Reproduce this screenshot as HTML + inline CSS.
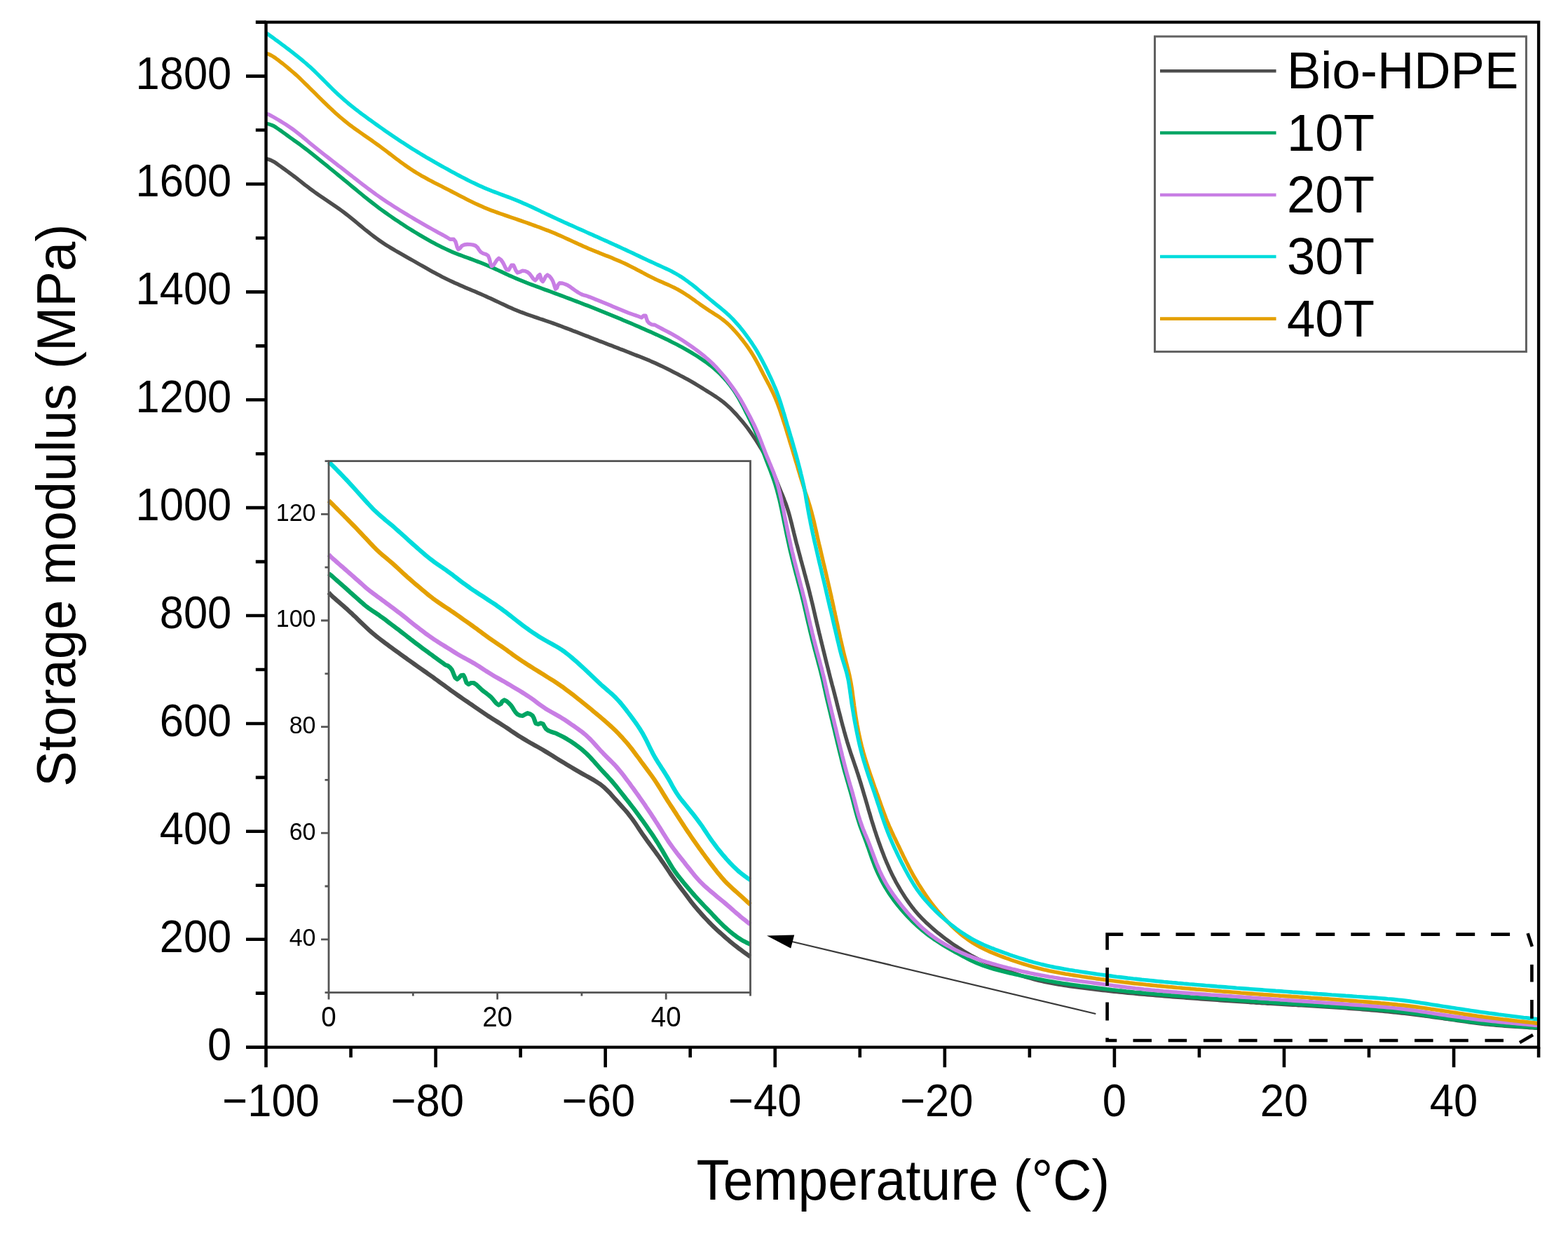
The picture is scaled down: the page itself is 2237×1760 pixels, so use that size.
<!DOCTYPE html>
<html><head><meta charset="utf-8"><title>Storage modulus</title><style>html,body{margin:0;padding:0;background:#fff;}body{width:2237px;height:1760px;overflow:hidden;}svg{display:block;}</style></head><body>
<svg xmlns="http://www.w3.org/2000/svg" width="2237" height="1760" viewBox="0 0 2237 1760">
<rect width="100%" height="100%" fill="#fff"/>
<g fill="none" stroke-linejoin="round" stroke-linecap="butt" stroke-width="6.20">
<path stroke="#4d4d4d" d="M469.0,845.0L471.5,848.1L474.4,850.8L477.4,853.4L480.4,856.1L483.4,858.7L486.5,861.3L489.5,863.9L492.5,866.6L495.5,869.2L498.4,871.9L501.4,874.6L504.3,877.4L507.2,880.1L510.1,882.9L512.9,885.7L515.8,888.5L518.7,891.3L521.6,894.0L524.5,896.7L527.4,899.4L530.5,902.1L533.5,904.6L536.6,907.2L539.7,909.6L542.9,912.1L546.1,914.5L549.3,916.9L552.5,919.3L555.7,921.7L558.9,924.0L562.2,926.4L565.4,928.8L568.6,931.1L571.9,933.5L575.1,935.8L578.4,938.1L581.6,940.5L584.9,942.8L588.1,945.1L591.4,947.4L594.7,949.7L597.9,952.0L601.2,954.3L604.5,956.6L607.8,958.9L611.0,961.2L614.3,963.5L617.6,965.8L620.8,968.2L624.1,970.5L627.3,972.9L630.5,975.2L633.7,977.6L637.0,980.0L640.2,982.3L643.4,984.7L646.7,987.0L649.9,989.3L653.2,991.6L656.5,993.9L659.8,996.2L663.1,998.5L666.4,1000.7L669.7,1003.0L673.0,1005.2L676.3,1007.5L679.6,1009.8L682.9,1012.0L686.2,1014.3L689.5,1016.5L692.8,1018.8L696.1,1021.0L699.5,1023.1L702.9,1025.3L706.2,1027.4L709.6,1029.5L713.0,1031.7L716.4,1033.8L719.8,1036.0L723.1,1038.2L726.4,1040.4L729.7,1042.7L733.0,1044.9L736.4,1047.1L739.7,1049.3L743.1,1051.4L746.5,1053.5L749.9,1055.5L753.4,1057.6L756.9,1059.6L760.3,1061.5L763.8,1063.5L767.3,1065.4L770.8,1067.4L774.3,1069.4L777.7,1071.5L781.1,1073.5L784.5,1075.6L787.9,1077.7L791.3,1079.8L794.7,1082.0L798.1,1084.1L801.5,1086.2L804.9,1088.2L808.4,1090.3L811.8,1092.4L815.2,1094.4L818.7,1096.5L822.1,1098.5L825.6,1100.5L829.0,1102.5L832.5,1104.5L836.0,1106.4L839.5,1108.3L843.0,1110.3L846.5,1112.3L849.9,1114.3L853.2,1116.5L856.5,1118.7L859.6,1121.2L862.6,1123.7L865.5,1126.5L868.3,1129.3L871.1,1132.2L873.7,1135.2L876.4,1138.2L879.0,1141.1L881.7,1144.1L884.4,1147.1L887.1,1150.1L889.7,1153.0L892.4,1156.0L895.0,1159.1L897.5,1162.2L899.9,1165.3L902.3,1168.5L904.6,1171.8L906.9,1175.1L909.1,1178.4L911.3,1181.7L913.5,1185.1L915.8,1188.4L918.1,1191.7L920.4,1194.9L922.7,1198.2L925.0,1201.4L927.4,1204.6L929.8,1207.9L932.2,1211.1L934.5,1214.3L936.9,1217.6L939.2,1220.8L941.5,1224.1L943.8,1227.4L946.1,1230.6L948.3,1233.9L950.6,1237.3L952.8,1240.6L955.0,1243.9L957.2,1247.2L959.5,1250.5L961.8,1253.8L964.1,1257.0L966.5,1260.2L968.9,1263.4L971.3,1266.6L973.8,1269.8L976.2,1273.0L978.6,1276.2L981.0,1279.4L983.4,1282.6L985.8,1285.8L988.2,1288.9L990.7,1292.0L993.3,1295.1L995.9,1298.1L998.6,1301.1L1001.2,1304.1L1003.9,1307.1L1006.6,1310.0L1009.4,1312.9L1012.1,1315.8L1014.9,1318.6L1017.8,1321.4L1020.7,1324.2L1023.6,1326.9L1026.6,1329.6L1029.6,1332.3L1032.5,1334.9L1035.5,1337.6L1038.6,1340.2L1041.6,1342.8L1044.7,1345.3L1047.8,1347.8L1051.0,1350.3L1054.1,1352.7L1057.3,1355.1L1060.5,1357.4L1063.7,1359.7L1066.9,1362.0L1069.9,1364.1L1070.5,1364.5"/>
<path stroke="#00a563" d="M469.0,818.0L472.2,820.4L475.2,823.0L478.2,825.7L481.2,828.3L484.2,831.0L487.2,833.6L490.2,836.3L493.2,838.9L496.2,841.6L499.1,844.3L502.1,846.9L505.1,849.6L508.1,852.3L511.1,854.9L514.1,857.6L517.1,860.2L520.1,862.8L523.2,865.3L526.4,867.7L529.7,870.0L532.9,872.2L536.3,874.4L539.6,876.6L542.8,878.9L546.1,881.2L549.3,883.6L552.4,886.0L555.6,888.4L558.8,890.9L562.0,893.3L565.2,895.7L568.4,898.1L571.5,900.5L574.7,902.9L577.9,905.4L581.0,907.9L584.2,910.3L587.3,912.8L590.5,915.2L593.7,917.7L596.9,920.1L600.1,922.5L603.3,924.9L606.5,927.2L609.7,929.6L612.9,932.0L616.2,934.3L619.4,936.7L622.6,939.0L625.9,941.4L629.1,943.7L632.3,946.0L635.4,948.4L639.4,949.8L642.4,952.4L644.8,955.5L646.4,959.2L647.8,963.0L649.4,966.6L652.2,968.8L655.2,966.3L657.9,963.3L661.2,962.8L663.0,966.3L664.2,970.1L665.6,973.8L668.5,976.0L672.0,974.0L675.7,974.0L679.1,976.1L682.0,978.8L684.9,981.6L687.8,984.3L691.0,986.8L694.2,989.1L697.4,991.6L700.4,994.2L703.1,997.1L705.6,1000.2L708.2,1003.3L711.4,1005.6L714.5,1003.9L716.5,1000.4L719.6,998.5L723.1,1000.3L726.1,1003.0L728.9,1005.9L731.2,1009.1L733.3,1012.6L735.5,1015.9L738.3,1018.7L741.9,1020.5L745.8,1020.8L749.2,1018.8L752.8,1017.2L756.6,1018.4L759.8,1020.8L761.7,1024.2L762.9,1028.0L764.4,1031.8L767.7,1032.9L771.4,1031.3L774.8,1032.7L776.7,1036.1L778.9,1039.5L782.1,1041.9L785.7,1043.5L789.5,1044.7L793.3,1045.9L796.9,1047.8L800.5,1049.5L804.0,1051.3L807.5,1053.3L810.9,1055.3L814.3,1057.4L817.6,1059.6L820.9,1061.9L824.1,1064.3L827.3,1066.7L830.4,1069.2L833.4,1071.8L836.4,1074.5L839.2,1077.3L842.0,1080.1L844.7,1083.1L847.4,1086.0L850.0,1089.0L852.7,1092.0L855.3,1095.0L858.0,1098.0L860.7,1100.9L863.5,1103.8L866.2,1106.7L868.9,1109.7L871.6,1112.6L874.2,1115.6L876.8,1118.7L879.3,1121.8L881.8,1124.9L884.3,1128.1L886.7,1131.2L889.2,1134.3L891.7,1137.5L894.2,1140.6L896.7,1143.7L899.1,1146.9L901.6,1150.1L904.0,1153.2L906.4,1156.4L908.8,1159.6L911.2,1162.9L913.5,1166.1L915.9,1169.3L918.2,1172.6L920.5,1175.8L922.8,1179.1L925.1,1182.4L927.4,1185.7L929.7,1189.0L931.9,1192.3L934.1,1195.6L936.2,1199.0L938.4,1202.4L940.5,1205.8L942.5,1209.2L944.6,1212.7L946.6,1216.1L948.6,1219.6L950.6,1223.0L952.6,1226.5L954.6,1229.9L956.7,1233.4L958.8,1236.8L960.9,1240.1L963.2,1243.4L965.6,1246.6L968.0,1249.8L970.5,1252.9L973.0,1256.0L975.5,1259.1L978.1,1262.2L980.7,1265.3L983.2,1268.3L985.8,1271.3L988.5,1274.4L991.1,1277.4L993.8,1280.3L996.5,1283.3L999.2,1286.2L1002.0,1289.1L1004.7,1292.0L1007.5,1294.9L1010.3,1297.7L1013.1,1300.6L1015.8,1303.5L1018.5,1306.5L1021.3,1309.4L1024.0,1312.3L1026.8,1315.1L1029.6,1317.9L1032.5,1320.7L1035.5,1323.4L1038.5,1326.0L1041.5,1328.6L1044.6,1331.1L1047.8,1333.6L1051.0,1335.9L1054.3,1338.2L1057.6,1340.3L1061.0,1342.3L1064.5,1344.1L1068.0,1345.8L1070.5,1347.1"/>
<path stroke="#c87ee4" d="M469.0,791.0L471.8,793.9L474.7,796.6L477.7,799.2L480.7,801.9L483.7,804.5L486.7,807.1L489.8,809.7L492.8,812.4L495.8,815.0L498.8,817.6L501.8,820.3L504.8,822.9L507.8,825.6L510.8,828.2L513.8,830.9L516.8,833.5L519.8,836.2L522.8,838.8L525.9,841.3L529.0,843.8L532.2,846.2L535.4,848.6L538.6,851.0L541.9,853.3L545.1,855.7L548.3,858.0L551.5,860.4L554.7,862.8L557.9,865.2L561.1,867.6L564.3,870.0L567.5,872.4L570.7,874.8L573.9,877.3L577.0,879.7L580.1,882.2L583.3,884.8L586.4,887.3L589.5,889.8L592.6,892.3L595.8,894.7L598.9,897.2L602.1,899.6L605.3,902.0L608.5,904.4L611.8,906.7L615.0,909.0L618.3,911.3L621.7,913.5L625.0,915.7L628.4,917.8L631.8,919.9L635.2,922.0L638.6,924.1L642.0,926.2L645.4,928.4L648.8,930.5L652.2,932.6L655.6,934.6L659.1,936.6L662.6,938.5L666.1,940.4L669.6,942.3L673.1,944.2L676.6,946.2L680.0,948.3L683.4,950.4L686.7,952.6L690.1,954.8L693.4,957.0L696.8,959.1L700.1,961.2L703.6,963.3L707.0,965.3L710.5,967.3L714.0,969.3L717.5,971.2L720.9,973.2L724.4,975.2L727.8,977.2L731.3,979.3L734.7,981.3L738.2,983.4L741.6,985.4L745.0,987.5L748.4,989.6L751.8,991.8L755.1,994.0L758.4,996.3L761.6,998.6L764.8,1001.0L768.0,1003.4L771.2,1005.7L774.5,1008.0L777.8,1010.3L781.1,1012.4L784.6,1014.4L788.1,1016.4L791.5,1018.3L795.0,1020.2L798.5,1022.2L801.9,1024.3L805.3,1026.4L808.6,1028.6L811.9,1030.9L815.2,1033.2L818.5,1035.4L821.8,1037.7L825.0,1040.0L828.3,1042.4L831.4,1044.8L834.5,1047.3L837.5,1050.0L840.4,1052.7L843.2,1055.5L845.9,1058.4L848.6,1061.4L851.3,1064.4L853.9,1067.3L856.6,1070.3L859.4,1073.2L862.1,1076.1L865.0,1078.9L867.8,1081.7L870.6,1084.5L873.5,1087.4L876.3,1090.2L879.0,1093.1L881.6,1096.1L884.2,1099.2L886.7,1102.3L889.2,1105.4L891.6,1108.6L894.0,1111.8L896.4,1115.0L898.8,1118.2L901.1,1121.5L903.5,1124.7L905.8,1127.9L908.2,1131.2L910.5,1134.4L912.8,1137.7L915.1,1141.0L917.4,1144.3L919.7,1147.5L921.9,1150.9L924.2,1154.2L926.4,1157.5L928.6,1160.8L930.8,1164.2L933.0,1167.5L935.1,1170.9L937.3,1174.2L939.4,1177.6L941.6,1181.0L943.7,1184.4L945.8,1187.8L947.9,1191.2L950.1,1194.6L952.2,1197.9L954.4,1201.3L956.7,1204.6L959.0,1207.8L961.4,1211.0L963.8,1214.2L966.2,1217.4L968.7,1220.5L971.2,1223.7L973.7,1226.8L976.2,1229.9L978.6,1233.1L981.1,1236.2L983.6,1239.3L986.1,1242.5L988.6,1245.6L991.1,1248.7L993.7,1251.7L996.4,1254.7L999.1,1257.6L1001.9,1260.4L1004.8,1263.2L1007.8,1265.9L1010.8,1268.5L1013.8,1271.1L1016.9,1273.7L1019.9,1276.2L1023.0,1278.8L1026.1,1281.3L1029.2,1283.8L1032.3,1286.4L1035.4,1289.0L1038.4,1291.6L1041.4,1294.2L1044.4,1296.9L1047.4,1299.5L1050.4,1302.1L1053.5,1304.7L1056.5,1307.3L1059.6,1309.8L1062.8,1312.3L1065.9,1314.8L1069.0,1317.2L1070.5,1318.4"/>
<path stroke="#e4a000" d="M469.0,714.0L471.8,716.8L474.7,719.6L477.5,722.4L480.4,725.3L483.2,728.1L486.0,730.9L488.9,733.7L491.7,736.6L494.5,739.4L497.3,742.2L500.1,745.1L502.9,748.0L505.7,750.8L508.5,753.7L511.2,756.6L514.0,759.5L516.7,762.4L519.5,765.3L522.2,768.2L525.0,771.2L527.7,774.1L530.5,777.0L533.2,779.8L536.0,782.7L538.9,785.4L541.9,788.2L544.8,790.8L547.9,793.4L551.0,795.9L554.0,798.5L557.1,801.1L560.1,803.7L563.1,806.4L566.0,809.1L569.0,811.8L571.9,814.5L574.8,817.2L577.8,819.9L580.7,822.6L583.7,825.2L586.8,827.9L589.8,830.5L592.8,833.1L595.9,835.7L598.9,838.2L602.0,840.8L605.1,843.4L608.1,845.9L611.2,848.5L614.4,850.9L617.5,853.4L620.7,855.8L624.0,858.1L627.3,860.3L630.6,862.6L633.9,864.8L637.3,867.0L640.6,869.2L643.9,871.5L647.2,873.7L650.5,876.0L653.8,878.3L657.1,880.6L660.3,882.9L663.6,885.2L666.9,887.5L670.1,889.8L673.4,892.1L676.6,894.4L679.9,896.8L683.1,899.2L686.3,901.6L689.5,904.0L692.7,906.3L696.0,908.7L699.2,911.0L702.5,913.3L705.8,915.5L709.1,917.8L712.4,920.0L715.7,922.2L719.0,924.5L722.3,926.8L725.5,929.2L728.8,931.5L732.0,933.9L735.2,936.2L738.5,938.5L741.8,940.8L745.1,943.0L748.5,945.2L751.8,947.4L755.2,949.5L758.6,951.7L762.0,953.8L765.4,955.9L768.8,958.0L772.2,960.1L775.5,962.2L778.9,964.3L782.3,966.5L785.7,968.6L789.1,970.7L792.5,972.9L795.8,975.1L799.1,977.3L802.4,979.6L805.6,982.0L808.8,984.4L812.0,986.8L815.2,989.2L818.4,991.6L821.5,994.1L824.6,996.6L827.8,999.1L830.9,1001.6L834.0,1004.1L837.1,1006.6L840.2,1009.2L843.3,1011.7L846.4,1014.3L849.5,1016.8L852.5,1019.4L855.6,1021.9L858.6,1024.5L861.7,1027.1L864.7,1029.8L867.7,1032.4L870.7,1035.1L873.6,1037.8L876.5,1040.5L879.4,1043.3L882.2,1046.2L884.9,1049.1L887.7,1052.0L890.3,1055.0L893.0,1058.0L895.6,1061.0L898.1,1064.1L900.6,1067.2L903.0,1070.4L905.4,1073.6L907.8,1076.8L910.2,1080.0L912.6,1083.2L914.9,1086.5L917.3,1089.7L919.7,1092.9L922.1,1096.1L924.5,1099.3L926.8,1102.5L929.2,1105.8L931.5,1109.0L933.8,1112.3L936.0,1115.6L938.2,1119.0L940.3,1122.4L942.4,1125.7L944.5,1129.2L946.6,1132.6L948.7,1136.0L950.8,1139.4L952.9,1142.8L955.1,1146.1L957.3,1149.5L959.5,1152.8L961.7,1156.2L963.9,1159.5L966.0,1162.9L968.2,1166.2L970.4,1169.6L972.5,1172.9L974.7,1176.3L976.9,1179.6L979.1,1183.0L981.3,1186.3L983.6,1189.6L985.8,1192.9L988.1,1196.2L990.4,1199.5L992.7,1202.8L995.0,1206.0L997.3,1209.3L999.7,1212.5L1002.0,1215.8L1004.4,1219.0L1006.7,1222.2L1009.1,1225.4L1011.5,1228.6L1013.9,1231.8L1016.4,1235.0L1018.8,1238.2L1021.3,1241.3L1023.7,1244.5L1026.3,1247.6L1028.8,1250.6L1031.5,1253.6L1034.1,1256.6L1036.9,1259.5L1039.8,1262.3L1042.7,1265.0L1045.6,1267.7L1048.6,1270.4L1051.6,1273.0L1054.6,1275.7L1057.5,1278.3L1060.5,1281.0L1063.5,1283.7L1066.4,1286.4L1069.3,1289.0L1070.5,1290.2"/>
<path stroke="#00dcdc" d="M469.0,659.0L472.0,661.6L474.8,664.4L477.7,667.3L480.5,670.1L483.3,673.0L486.1,675.8L488.8,678.7L491.6,681.6L494.4,684.5L497.1,687.4L499.8,690.3L502.6,693.3L505.2,696.2L507.9,699.2L510.6,702.2L513.3,705.2L515.9,708.1L518.6,711.1L521.3,714.1L524.0,717.1L526.7,720.0L529.4,722.9L532.2,725.8L535.0,728.6L537.9,731.3L540.9,734.0L543.9,736.6L547.0,739.2L550.0,741.8L553.1,744.3L556.2,746.9L559.3,749.4L562.3,752.0L565.3,754.7L568.3,757.3L571.3,760.0L574.3,762.7L577.2,765.3L580.2,768.0L583.1,770.7L586.1,773.4L589.1,776.1L592.1,778.7L595.1,781.4L598.1,784.0L601.1,786.6L604.1,789.2L607.2,791.8L610.3,794.3L613.4,796.8L616.6,799.3L619.8,801.7L623.0,804.0L626.3,806.3L629.6,808.5L632.9,810.8L636.2,813.0L639.5,815.4L642.7,817.7L645.9,820.1L649.0,822.6L652.2,825.0L655.4,827.5L658.6,829.9L661.8,832.3L665.0,834.6L668.3,836.9L671.5,839.2L674.8,841.5L678.2,843.7L681.5,845.9L684.9,848.1L688.2,850.2L691.6,852.4L694.9,854.6L698.3,856.8L701.6,859.0L705.0,861.2L708.3,863.4L711.5,865.7L714.8,868.0L718.0,870.4L721.2,872.8L724.4,875.2L727.6,877.7L730.7,880.1L733.8,882.6L737.0,885.1L740.1,887.5L743.3,890.0L746.5,892.4L749.7,894.8L753.0,897.1L756.2,899.4L759.5,901.7L762.8,903.9L766.2,906.1L769.6,908.3L773.0,910.4L776.4,912.4L779.9,914.4L783.3,916.3L786.9,918.2L790.4,920.2L793.8,922.1L797.2,924.2L800.6,926.3L803.9,928.6L807.1,931.0L810.2,933.4L813.3,935.9L816.4,938.5L819.4,941.1L822.4,943.7L825.4,946.4L828.4,949.1L831.3,951.8L834.3,954.5L837.2,957.2L840.1,960.0L843.0,962.7L845.9,965.5L848.8,968.3L851.7,971.0L854.6,973.8L857.5,976.5L860.5,979.1L863.5,981.7L866.6,984.4L869.6,987.0L872.6,989.6L875.5,992.3L878.4,995.1L881.1,998.0L883.8,1000.9L886.4,1003.9L888.9,1007.0L891.4,1010.2L893.9,1013.3L896.3,1016.5L898.7,1019.7L901.1,1022.9L903.5,1026.1L905.8,1029.3L908.2,1032.6L910.4,1035.9L912.6,1039.2L914.7,1042.6L916.8,1046.0L918.7,1049.5L920.6,1053.0L922.5,1056.6L924.2,1060.2L926.0,1063.8L927.7,1067.3L929.5,1070.9L931.3,1074.5L933.2,1078.0L935.2,1081.5L937.3,1084.9L939.4,1088.3L941.6,1091.6L943.7,1095.0L945.9,1098.3L948.1,1101.7L950.2,1105.1L952.3,1108.5L954.3,1111.9L956.3,1115.4L958.2,1118.9L960.1,1122.4L962.1,1125.9L964.1,1129.3L966.3,1132.6L968.6,1135.9L970.9,1139.1L973.4,1142.2L975.9,1145.3L978.4,1148.4L981.0,1151.5L983.5,1154.6L986.0,1157.7L988.5,1160.8L991.0,1164.0L993.4,1167.1L995.8,1170.3L998.2,1173.6L1000.5,1176.8L1002.8,1180.1L1005.0,1183.5L1007.2,1186.8L1009.4,1190.1L1011.7,1193.4L1013.9,1196.7L1016.2,1200.0L1018.6,1203.2L1021.0,1206.4L1023.4,1209.6L1025.9,1212.7L1028.4,1215.8L1031.0,1218.9L1033.6,1221.9L1036.2,1225.0L1038.9,1227.9L1041.6,1230.9L1044.3,1233.7L1047.2,1236.6L1050.1,1239.3L1053.0,1242.0L1056.1,1244.6L1059.2,1247.1L1062.4,1249.5L1065.6,1251.8L1068.9,1254.0L1070.5,1255.1"/>
</g>
<g stroke="#555" stroke-width="2.80" fill="none">
<rect x="469.00" y="657.60" width="601.50" height="758.00"/>
<path d="M458.00,1339.80H469.00M458.00,1188.20H469.00M458.00,1036.60H469.00M458.00,885.00H469.00M458.00,733.40H469.00M463.50,1415.60H469.00M463.50,1264.00H469.00M463.50,1112.40H469.00M463.50,960.80H469.00M463.50,809.20H469.00M463.50,657.60H469.00M469.00,1415.60V1425.60M709.60,1415.60V1425.60M950.20,1415.60V1425.60M589.30,1415.60V1420.60M829.90,1415.60V1420.60M1070.50,1415.60V1420.60"/>
</g>
<text font-family="'Liberation Sans', Arial, sans-serif" fill="#000" font-size="34.00" transform="translate(450.50,1349.20) scale(1.0000,1.0500)" text-anchor="end">40</text>
<text font-family="'Liberation Sans', Arial, sans-serif" fill="#000" font-size="34.00" transform="translate(450.50,1197.60) scale(1.0000,1.0500)" text-anchor="end">60</text>
<text font-family="'Liberation Sans', Arial, sans-serif" fill="#000" font-size="34.00" transform="translate(450.50,1046.00) scale(1.0000,1.0500)" text-anchor="end">80</text>
<text font-family="'Liberation Sans', Arial, sans-serif" fill="#000" font-size="34.00" transform="translate(450.50,894.40) scale(1.0000,1.0500)" text-anchor="end">100</text>
<text font-family="'Liberation Sans', Arial, sans-serif" fill="#000" font-size="34.00" transform="translate(450.50,742.80) scale(1.0000,1.0500)" text-anchor="end">120</text>
<text font-family="'Liberation Sans', Arial, sans-serif" fill="#000" font-size="38.50" transform="translate(469.00,1463.50) scale(1.0000,1.0500)" text-anchor="middle">0</text>
<text font-family="'Liberation Sans', Arial, sans-serif" fill="#000" font-size="38.50" transform="translate(709.60,1463.50) scale(1.0000,1.0500)" text-anchor="middle">20</text>
<text font-family="'Liberation Sans', Arial, sans-serif" fill="#000" font-size="38.50" transform="translate(950.20,1463.50) scale(1.0000,1.0500)" text-anchor="middle">40</text>
<g fill="none" stroke-linejoin="round" stroke-linecap="butt" stroke-width="5.40">
<path stroke="#4d4d4d" d="M379.5,226.5L383.4,227.4L387.1,228.8L390.6,230.6L393.9,232.8L397.1,235.1L400.4,237.4L403.6,239.7L406.8,242.0L410.0,244.4L413.2,246.7L416.4,249.1L419.6,251.5L422.8,253.9L425.9,256.4L429.1,258.8L432.2,261.3L435.3,263.8L438.5,266.2L441.7,268.7L444.9,271.0L448.1,273.4L451.4,275.7L454.6,278.0L457.9,280.2L461.3,282.5L464.6,284.7L467.9,286.9L471.2,289.2L474.5,291.4L477.8,293.7L481.1,296.0L484.3,298.3L487.6,300.6L490.8,303.0L494.0,305.5L497.1,307.9L500.2,310.4L503.3,312.9L506.4,315.4L509.5,318.0L512.6,320.6L515.7,323.1L518.8,325.7L521.8,328.2L525.0,330.7L528.1,333.2L531.3,335.6L534.4,338.0L537.7,340.4L540.9,342.7L544.2,345.0L547.5,347.2L550.9,349.4L554.3,351.5L557.7,353.6L561.1,355.6L564.6,357.7L568.0,359.7L571.5,361.7L575.0,363.6L578.4,365.6L581.9,367.6L585.4,369.6L588.9,371.5L592.4,373.5L595.8,375.5L599.3,377.5L602.8,379.4L606.3,381.4L609.8,383.4L613.2,385.3L616.7,387.3L620.2,389.2L623.8,391.1L627.3,392.9L630.8,394.8L634.4,396.6L638.0,398.4L641.6,400.1L645.2,401.8L648.8,403.5L652.5,405.1L656.1,406.7L659.8,408.3L663.5,409.9L667.2,411.5L670.9,413.0L674.5,414.6L678.2,416.1L681.9,417.7L685.6,419.3L689.2,420.9L692.9,422.5L696.5,424.2L700.2,425.8L703.8,427.5L707.4,429.2L711.0,430.9L714.6,432.6L718.3,434.3L721.9,436.0L725.5,437.7L729.2,439.3L732.9,440.9L736.6,442.4L740.3,443.9L744.0,445.4L747.7,446.8L751.5,448.2L755.2,449.5L759.0,450.8L762.8,452.1L766.6,453.4L770.4,454.7L774.2,455.9L778.0,457.2L781.7,458.5L785.5,459.8L789.3,461.1L793.1,462.5L796.8,463.9L800.6,465.2L804.3,466.7L808.0,468.1L811.8,469.5L815.5,470.9L819.2,472.4L823.0,473.8L826.7,475.3L830.4,476.7L834.2,478.2L837.9,479.6L841.6,481.1L845.3,482.5L849.1,484.0L852.8,485.4L856.5,486.9L860.3,488.3L864.0,489.7L867.7,491.2L871.5,492.6L875.2,494.1L878.9,495.5L882.7,496.9L886.4,498.4L890.1,499.8L893.8,501.3L897.6,502.7L901.3,504.2L905.0,505.7L908.7,507.1L912.5,508.6L916.2,510.1L919.9,511.6L923.6,513.1L927.3,514.6L930.9,516.2L934.6,517.8L938.2,519.5L941.9,521.2L945.5,522.9L949.1,524.6L952.6,526.4L956.2,528.2L959.8,530.1L963.3,531.9L966.9,533.7L970.4,535.6L974.0,537.4L977.5,539.3L981.0,541.2L984.5,543.1L988.0,545.1L991.4,547.1L994.8,549.2L998.2,551.3L1001.6,553.4L1005.0,555.5L1008.4,557.6L1011.8,559.7L1015.1,561.8L1018.5,564.0L1021.8,566.1L1025.1,568.4L1028.3,570.7L1031.5,573.1L1034.5,575.6L1037.5,578.2L1040.5,580.9L1043.3,583.7L1046.1,586.6L1048.9,589.5L1051.6,592.4L1054.2,595.4L1056.8,598.4L1059.4,601.5L1061.9,604.6L1064.3,607.7L1066.8,610.9L1069.1,614.1L1071.4,617.4L1073.7,620.7L1075.9,624.0L1078.1,627.3L1080.3,630.7L1082.4,634.1L1084.5,637.5L1086.6,640.9L1088.6,644.3L1090.6,647.8L1092.5,651.3L1094.4,654.8L1096.2,658.4L1097.9,662.0L1099.5,665.6L1101.1,669.3L1102.7,673.0L1104.2,676.7L1105.7,680.4L1107.2,684.1L1108.7,687.8L1110.2,691.5L1111.7,695.2L1113.2,698.9L1114.7,702.6L1116.3,706.3L1117.8,710.0L1119.2,713.7L1120.7,717.4L1122.0,721.2L1123.3,725.0L1124.5,728.8L1125.6,732.6L1126.7,736.4L1127.7,740.3L1128.7,744.2L1129.7,748.0L1130.6,751.9L1131.6,755.8L1132.5,759.7L1133.5,763.6L1134.5,767.5L1135.4,771.3L1136.4,775.2L1137.5,779.1L1138.5,782.9L1139.5,786.8L1140.6,790.7L1141.6,794.5L1142.6,798.4L1143.7,802.3L1144.7,806.1L1145.8,810.0L1146.8,813.8L1147.8,817.7L1148.9,821.6L1149.9,825.4L1150.9,829.3L1152.0,833.2L1153.0,837.0L1154.0,840.9L1155.0,844.8L1155.9,848.7L1156.9,852.5L1157.8,856.4L1158.8,860.3L1159.7,864.2L1160.6,868.1L1161.5,872.0L1162.4,875.9L1163.3,879.8L1164.2,883.7L1165.1,887.6L1166.0,891.5L1167.0,895.4L1167.9,899.3L1168.8,903.2L1169.8,907.0L1170.7,910.9L1171.7,914.8L1172.6,918.7L1173.6,922.6L1174.5,926.5L1175.5,930.4L1176.4,934.2L1177.4,938.1L1178.3,942.0L1179.3,945.9L1180.3,949.8L1181.3,953.6L1182.2,957.5L1183.2,961.4L1184.2,965.3L1185.2,969.1L1186.2,973.0L1187.2,976.9L1188.3,980.8L1189.3,984.6L1190.3,988.5L1191.3,992.4L1192.3,996.2L1193.3,1000.1L1194.2,1004.0L1195.2,1007.9L1196.2,1011.8L1197.2,1015.6L1198.2,1019.5L1199.2,1023.4L1200.2,1027.3L1201.2,1031.1L1202.2,1035.0L1203.3,1038.8L1204.3,1042.7L1205.4,1046.6L1206.5,1050.4L1207.6,1054.2L1208.7,1058.1L1209.9,1061.9L1211.1,1065.7L1212.3,1069.5L1213.5,1073.3L1214.8,1077.1L1216.1,1080.9L1217.4,1084.7L1218.7,1088.5L1220.0,1092.3L1221.3,1096.0L1222.5,1099.8L1223.8,1103.6L1225.0,1107.4L1226.2,1111.3L1227.4,1115.1L1228.6,1118.9L1229.7,1122.7L1230.9,1126.6L1232.0,1130.4L1233.1,1134.2L1234.3,1138.1L1235.4,1141.9L1236.5,1145.8L1237.6,1149.6L1238.7,1153.4L1239.8,1157.3L1241.0,1161.1L1242.1,1165.0L1243.2,1168.8L1244.4,1172.6L1245.6,1176.4L1246.8,1180.2L1248.0,1184.1L1249.3,1187.9L1250.5,1191.6L1251.8,1195.4L1253.1,1199.2L1254.5,1203.0L1255.8,1206.7L1257.2,1210.5L1258.6,1214.2L1260.1,1218.0L1261.5,1221.7L1263.0,1225.4L1264.5,1229.1L1266.1,1232.8L1267.7,1236.4L1269.3,1240.1L1271.0,1243.7L1272.7,1247.3L1274.5,1250.9L1276.4,1254.4L1278.2,1258.0L1280.2,1261.5L1282.2,1264.9L1284.2,1268.4L1286.3,1271.8L1288.4,1275.2L1290.5,1278.5L1292.8,1281.9L1295.0,1285.1L1297.3,1288.4L1299.7,1291.6L1302.1,1294.8L1304.6,1297.9L1307.2,1300.9L1309.8,1303.9L1312.5,1306.9L1315.3,1309.8L1318.1,1312.6L1320.9,1315.4L1323.8,1318.1L1326.8,1320.8L1329.8,1323.5L1332.8,1326.1L1335.9,1328.7L1338.9,1331.2L1342.1,1333.7L1345.2,1336.2L1348.4,1338.6L1351.6,1341.0L1354.8,1343.3L1358.1,1345.6L1361.4,1347.9L1364.7,1350.1L1368.1,1352.3L1371.4,1354.4L1374.8,1356.5L1378.3,1358.6L1381.7,1360.6L1385.2,1362.6L1388.7,1364.4L1392.3,1366.3L1395.8,1368.1L1399.4,1369.8L1403.1,1371.4L1406.7,1373.0L1410.4,1374.6L1414.1,1376.1L1417.8,1377.6L1421.6,1379.0L1425.3,1380.4L1429.0,1381.8L1432.8,1383.2L1436.6,1384.6L1440.3,1385.9L1444.1,1387.2L1447.9,1388.5L1451.7,1389.7L1455.5,1391.0L1459.3,1392.2L1463.1,1393.3L1467.0,1394.4L1470.8,1395.5L1474.7,1396.6L1478.5,1397.6L1482.4,1398.5L1486.3,1399.4L1490.2,1400.3L1494.1,1401.1L1498.0,1401.9L1502.0,1402.7L1505.9,1403.4L1509.9,1404.0L1513.8,1404.7L1517.8,1405.3L1521.7,1405.9L1525.7,1406.5L1529.6,1407.0L1533.6,1407.5L1537.6,1408.1L1541.5,1408.6L1545.5,1409.1L1549.5,1409.6L1553.4,1410.1L1557.4,1410.6L1561.4,1411.0L1565.3,1411.5L1569.3,1412.0L1573.3,1412.5L1577.3,1412.9L1581.2,1413.4L1585.2,1413.8L1589.2,1414.2L1593.2,1414.6L1597.1,1415.0L1601.1,1415.4L1605.1,1415.8L1609.1,1416.2L1613.1,1416.6L1617.1,1416.9L1621.0,1417.3L1625.0,1417.7L1629.0,1418.0L1633.0,1418.4L1637.0,1418.7L1641.0,1419.1L1644.9,1419.4L1648.9,1419.7L1652.9,1420.1L1656.9,1420.4L1660.9,1420.7L1664.9,1421.1L1668.9,1421.4L1672.9,1421.7L1676.8,1422.0L1680.8,1422.3L1684.8,1422.6L1688.8,1422.9L1692.8,1423.2L1696.8,1423.5L1700.8,1423.8L1704.8,1424.1L1708.7,1424.4L1712.7,1424.7L1716.7,1425.0L1720.7,1425.3L1724.7,1425.6L1728.7,1425.9L1732.7,1426.1L1736.7,1426.4L1740.7,1426.7L1744.7,1427.0L1748.6,1427.3L1752.6,1427.5L1756.6,1427.8L1760.6,1428.1L1764.6,1428.3L1768.6,1428.6L1772.6,1428.9L1776.6,1429.1L1780.6,1429.4L1784.6,1429.7L1788.6,1429.9L1792.5,1430.2L1796.5,1430.4L1800.5,1430.7L1804.5,1430.9L1808.5,1431.2L1812.5,1431.4L1816.5,1431.6L1820.5,1431.9L1824.5,1432.1L1828.5,1432.3L1832.5,1432.5L1836.5,1432.8L1840.5,1433.0L1844.5,1433.2L1848.5,1433.4L1852.4,1433.7L1856.4,1433.9L1860.4,1434.1L1864.4,1434.3L1868.4,1434.6L1872.4,1434.8L1876.4,1435.0L1880.4,1435.3L1884.4,1435.5L1888.4,1435.7L1892.4,1436.0L1896.4,1436.2L1900.4,1436.5L1904.4,1436.8L1908.3,1437.0L1912.3,1437.3L1916.3,1437.6L1920.3,1437.9L1924.3,1438.2L1928.3,1438.5L1932.3,1438.8L1936.3,1439.1L1940.3,1439.4L1944.2,1439.7L1948.2,1440.0L1952.2,1440.4L1956.2,1440.7L1960.2,1441.1L1964.2,1441.4L1968.2,1441.8L1972.1,1442.1L1976.1,1442.5L1980.1,1442.9L1984.1,1443.3L1988.1,1443.7L1992.0,1444.1L1996.0,1444.5L2000.0,1445.0L2004.0,1445.4L2007.9,1445.9L2011.9,1446.4L2015.9,1446.8L2019.9,1447.3L2023.8,1447.8L2027.8,1448.4L2031.8,1448.9L2035.7,1449.4L2039.7,1449.9L2043.6,1450.5L2047.6,1451.0L2051.6,1451.6L2055.5,1452.1L2059.5,1452.7L2063.5,1453.2L2067.4,1453.8L2071.4,1454.4L2075.3,1454.9L2079.3,1455.5L2083.3,1456.1L2087.2,1456.6L2091.2,1457.2L2095.1,1457.7L2099.1,1458.3L2103.1,1458.8L2107.0,1459.3L2111.0,1459.8L2115.0,1460.3L2118.9,1460.7L2122.9,1461.1L2126.9,1461.5L2130.9,1461.9L2134.9,1462.3L2138.9,1462.6L2142.8,1462.9L2146.8,1463.2L2150.8,1463.5L2154.8,1463.8L2158.8,1464.1L2162.8,1464.4L2166.8,1464.6L2170.7,1464.9L2174.7,1465.1L2178.7,1465.4L2182.7,1465.7L2186.6,1465.9L2190.5,1466.2L2194.1,1466.4L2195.0,1466.5"/>
<path stroke="#00a563" d="M379.5,176.0L383.4,177.0L387.1,178.2L390.7,179.8L394.0,181.9L397.2,184.1L400.4,186.3L403.6,188.6L406.8,190.9L410.0,193.2L413.2,195.6L416.4,197.9L419.6,200.2L422.9,202.5L426.1,204.8L429.3,207.2L432.5,209.6L435.7,212.0L438.9,214.4L442.0,216.9L445.2,219.4L448.3,221.9L451.4,224.4L454.5,226.9L457.6,229.4L460.7,231.9L463.9,234.4L467.0,236.9L470.1,239.5L473.2,242.0L476.3,244.5L479.4,247.0L482.5,249.6L485.6,252.1L488.7,254.6L491.7,257.2L494.8,259.7L497.9,262.3L501.0,264.8L504.1,267.4L507.2,269.9L510.3,272.5L513.3,275.0L516.4,277.5L519.5,280.1L522.7,282.6L525.8,285.1L528.9,287.5L532.1,290.0L535.2,292.4L538.4,294.9L541.6,297.3L544.8,299.6L548.1,302.0L551.3,304.3L554.6,306.6L557.9,308.9L561.2,311.2L564.5,313.4L567.8,315.6L571.1,317.9L574.5,320.0L577.8,322.2L581.2,324.4L584.6,326.5L588.0,328.6L591.4,330.7L594.8,332.8L598.2,334.8L601.7,336.9L605.1,338.9L608.6,340.9L612.1,342.8L615.6,344.8L619.1,346.7L622.6,348.6L626.2,350.4L629.7,352.2L633.3,353.9L637.0,355.6L640.6,357.3L644.3,358.9L647.9,360.4L651.7,361.9L655.4,363.4L659.1,364.8L662.9,366.2L666.6,367.5L670.4,368.9L674.1,370.3L677.9,371.7L681.6,373.1L685.4,374.5L689.1,376.0L692.8,377.5L696.4,379.1L700.1,380.7L703.7,382.3L707.4,384.0L711.0,385.6L714.6,387.3L718.3,389.0L721.9,390.7L725.5,392.4L729.2,394.0L732.8,395.6L736.5,397.2L740.2,398.8L743.9,400.3L747.6,401.8L751.3,403.3L755.0,404.7L758.8,406.1L762.5,407.5L766.3,408.9L770.0,410.3L773.8,411.7L777.5,413.1L781.3,414.4L785.0,415.8L788.8,417.2L792.5,418.6L796.3,420.0L800.0,421.4L803.8,422.8L807.5,424.2L811.3,425.6L815.0,427.0L818.8,428.5L822.5,429.9L826.2,431.3L830.0,432.7L833.7,434.2L837.4,435.6L841.1,437.1L844.9,438.6L848.6,440.0L852.3,441.5L856.0,443.0L859.7,444.5L863.4,446.0L867.1,447.5L870.8,449.0L874.5,450.5L878.2,452.0L881.9,453.6L885.6,455.1L889.3,456.7L893.0,458.2L896.7,459.8L900.4,461.3L904.0,462.9L907.7,464.5L911.4,466.1L915.1,467.7L918.7,469.3L922.4,470.9L926.0,472.5L929.7,474.1L933.3,475.8L937.0,477.4L940.6,479.1L944.2,480.8L947.9,482.5L951.5,484.2L955.1,486.0L958.6,487.8L962.2,489.6L965.8,491.4L969.3,493.3L972.8,495.2L976.3,497.1L979.8,499.1L983.3,501.1L986.7,503.1L990.1,505.2L993.5,507.3L996.9,509.5L1000.2,511.7L1003.5,513.9L1006.8,516.2L1010.0,518.6L1013.2,521.0L1016.3,523.5L1019.3,526.0L1022.3,528.6L1025.2,531.4L1028.1,534.1L1030.9,537.0L1033.6,539.9L1036.2,542.9L1038.7,546.0L1041.2,549.1L1043.6,552.3L1045.9,555.5L1048.2,558.8L1050.3,562.2L1052.4,565.6L1054.4,569.0L1056.3,572.5L1058.2,576.0L1060.1,579.6L1061.9,583.1L1063.7,586.7L1065.5,590.3L1067.3,593.8L1069.0,597.4L1070.8,601.0L1072.6,604.6L1074.3,608.2L1076.0,611.8L1077.6,615.5L1079.2,619.1L1080.7,622.8L1082.2,626.6L1083.6,630.3L1085.0,634.0L1086.3,637.8L1087.7,641.5L1089.1,645.3L1090.5,649.0L1091.9,652.8L1093.3,656.5L1094.8,660.3L1096.2,664.0L1097.7,667.7L1099.1,671.4L1100.5,675.2L1101.9,678.9L1103.2,682.7L1104.5,686.5L1105.8,690.3L1106.9,694.1L1108.1,697.9L1109.1,701.8L1110.1,705.6L1111.1,709.5L1112.1,713.4L1113.0,717.3L1113.8,721.2L1114.7,725.1L1115.5,729.0L1116.3,732.9L1117.1,736.8L1117.9,740.8L1118.7,744.7L1119.5,748.6L1120.3,752.5L1121.1,756.4L1121.9,760.4L1122.7,764.3L1123.6,768.2L1124.4,772.1L1125.3,776.0L1126.1,779.9L1127.0,783.8L1127.9,787.7L1128.9,791.6L1129.8,795.5L1130.8,799.4L1131.7,803.2L1132.7,807.1L1133.7,811.0L1134.7,814.9L1135.7,818.7L1136.8,822.6L1137.8,826.5L1138.8,830.3L1139.8,834.2L1140.9,838.1L1141.9,841.9L1142.9,845.8L1143.9,849.7L1144.8,853.6L1145.8,857.4L1146.7,861.3L1147.6,865.2L1148.5,869.1L1149.4,873.0L1150.3,876.9L1151.2,880.8L1152.1,884.7L1153.0,888.6L1154.0,892.5L1154.9,896.4L1155.8,900.3L1156.7,904.2L1157.7,908.1L1158.6,911.9L1159.6,915.8L1160.6,919.7L1161.6,923.6L1162.6,927.4L1163.7,931.3L1164.7,935.2L1165.8,939.0L1166.8,942.9L1167.8,946.7L1168.9,950.6L1169.9,954.5L1170.9,958.3L1171.8,962.2L1172.8,966.1L1173.7,970.0L1174.6,973.9L1175.4,977.8L1176.3,981.7L1177.2,985.6L1178.0,989.5L1178.9,993.4L1179.8,997.3L1180.7,1001.2L1181.7,1005.1L1182.6,1009.0L1183.5,1012.9L1184.5,1016.8L1185.4,1020.7L1186.3,1024.6L1187.3,1028.4L1188.2,1032.3L1189.1,1036.2L1190.1,1040.1L1191.0,1044.0L1191.9,1047.9L1192.9,1051.8L1193.8,1055.7L1194.7,1059.6L1195.7,1063.5L1196.6,1067.3L1197.5,1071.2L1198.5,1075.1L1199.5,1079.0L1200.4,1082.9L1201.4,1086.8L1202.4,1090.6L1203.4,1094.5L1204.4,1098.4L1205.5,1102.2L1206.6,1106.1L1207.7,1109.9L1208.8,1113.8L1209.9,1117.6L1211.0,1121.4L1212.1,1125.3L1213.2,1129.1L1214.3,1133.0L1215.4,1136.8L1216.4,1140.7L1217.4,1144.6L1218.4,1148.4L1219.4,1152.3L1220.4,1156.2L1221.5,1160.0L1222.6,1163.9L1223.7,1167.7L1224.9,1171.5L1226.1,1175.3L1227.4,1179.1L1228.8,1182.8L1230.2,1186.6L1231.6,1190.3L1233.1,1194.0L1234.5,1197.8L1235.9,1201.5L1237.2,1205.3L1238.6,1209.0L1239.9,1212.8L1241.2,1216.6L1242.5,1220.4L1243.8,1224.1L1245.2,1227.9L1246.6,1231.6L1248.0,1235.3L1249.5,1239.0L1251.1,1242.7L1252.8,1246.3L1254.5,1249.9L1256.3,1253.5L1258.1,1257.0L1260.0,1260.5L1262.0,1264.0L1264.1,1267.4L1266.2,1270.8L1268.4,1274.2L1270.6,1277.5L1272.9,1280.7L1275.2,1284.0L1277.6,1287.1L1280.1,1290.3L1282.6,1293.4L1285.2,1296.5L1287.8,1299.5L1290.4,1302.5L1293.1,1305.4L1295.9,1308.3L1298.7,1311.2L1301.5,1314.0L1304.4,1316.8L1307.3,1319.5L1310.2,1322.2L1313.2,1324.8L1316.3,1327.4L1319.4,1329.9L1322.5,1332.4L1325.7,1334.8L1329.0,1337.1L1332.2,1339.4L1335.5,1341.6L1338.9,1343.8L1342.3,1346.0L1345.7,1348.1L1349.1,1350.1L1352.5,1352.2L1356.0,1354.2L1359.5,1356.2L1362.9,1358.1L1366.4,1360.0L1370.0,1362.0L1373.5,1363.9L1377.0,1365.7L1380.6,1367.5L1384.1,1369.3L1387.7,1371.1L1391.4,1372.7L1395.0,1374.3L1398.7,1375.8L1402.4,1377.2L1406.2,1378.5L1410.0,1379.8L1413.8,1381.0L1417.6,1382.1L1421.5,1383.2L1425.3,1384.2L1429.2,1385.2L1433.1,1386.2L1437.0,1387.1L1440.9,1388.0L1444.8,1388.9L1448.7,1389.8L1452.6,1390.6L1456.5,1391.5L1460.4,1392.3L1464.3,1393.1L1468.2,1393.9L1472.2,1394.7L1476.1,1395.4L1480.0,1396.2L1483.9,1396.9L1487.9,1397.7L1491.8,1398.4L1495.8,1399.1L1499.7,1399.7L1503.6,1400.4L1507.6,1401.1L1511.5,1401.7L1515.5,1402.3L1519.4,1402.9L1523.4,1403.5L1527.4,1404.1L1531.3,1404.6L1535.3,1405.2L1539.2,1405.7L1543.2,1406.3L1547.2,1406.8L1551.1,1407.3L1555.1,1407.8L1559.1,1408.3L1563.0,1408.8L1567.0,1409.3L1571.0,1409.8L1574.9,1410.3L1578.9,1410.8L1582.9,1411.2L1586.9,1411.7L1590.8,1412.1L1594.8,1412.6L1598.8,1413.0L1602.8,1413.4L1606.7,1413.9L1610.7,1414.3L1614.7,1414.7L1618.7,1415.1L1622.7,1415.4L1626.7,1415.8L1630.6,1416.2L1634.6,1416.6L1638.6,1416.9L1642.6,1417.3L1646.6,1417.6L1650.6,1418.0L1654.5,1418.3L1658.5,1418.7L1662.5,1419.0L1666.5,1419.3L1670.5,1419.7L1674.5,1420.0L1678.5,1420.3L1682.4,1420.6L1686.4,1420.9L1690.4,1421.2L1694.4,1421.5L1698.4,1421.9L1702.4,1422.2L1706.4,1422.4L1710.4,1422.7L1714.4,1423.0L1718.3,1423.3L1722.3,1423.6L1726.3,1423.9L1730.3,1424.2L1734.3,1424.5L1738.3,1424.8L1742.3,1425.0L1746.3,1425.3L1750.3,1425.6L1754.3,1425.9L1758.2,1426.2L1762.2,1426.5L1766.2,1426.7L1770.2,1427.0L1774.2,1427.3L1778.2,1427.6L1782.2,1427.8L1786.2,1428.1L1790.2,1428.4L1794.2,1428.6L1798.1,1428.9L1802.1,1429.2L1806.1,1429.4L1810.1,1429.7L1814.1,1429.9L1818.1,1430.2L1822.1,1430.4L1826.1,1430.7L1830.1,1430.9L1834.1,1431.2L1838.1,1431.4L1842.1,1431.7L1846.1,1431.9L1850.0,1432.2L1854.0,1432.4L1858.0,1432.7L1862.0,1432.9L1866.0,1433.2L1870.0,1433.4L1874.0,1433.7L1878.0,1433.9L1882.0,1434.2L1886.0,1434.4L1890.0,1434.7L1894.0,1434.9L1897.9,1435.2L1901.9,1435.5L1905.9,1435.7L1909.9,1436.0L1913.9,1436.3L1917.9,1436.6L1921.9,1436.8L1925.9,1437.1L1929.9,1437.4L1933.9,1437.7L1937.9,1438.0L1941.8,1438.3L1945.8,1438.5L1949.8,1438.8L1953.8,1439.1L1957.8,1439.4L1961.8,1439.7L1965.8,1440.1L1969.8,1440.4L1973.7,1440.7L1977.7,1441.1L1981.7,1441.4L1985.7,1441.8L1989.7,1442.2L1993.6,1442.7L1997.6,1443.1L2001.6,1443.6L2005.6,1444.1L2009.5,1444.6L2013.5,1445.1L2017.5,1445.7L2021.4,1446.2L2025.4,1446.8L2029.3,1447.4L2033.3,1448.0L2037.2,1448.7L2041.2,1449.3L2045.1,1449.9L2049.1,1450.5L2053.0,1451.1L2057.0,1451.7L2061.0,1452.3L2064.9,1452.8L2068.9,1453.4L2072.8,1454.0L2076.8,1454.5L2080.8,1455.1L2084.7,1455.6L2088.7,1456.1L2092.6,1456.7L2096.6,1457.2L2100.6,1457.7L2104.6,1458.1L2108.5,1458.6L2112.5,1459.1L2116.5,1459.5L2120.5,1459.9L2124.4,1460.3L2128.4,1460.7L2132.4,1461.1L2136.4,1461.5L2140.4,1461.8L2144.3,1462.1L2148.3,1462.5L2152.3,1462.8L2156.3,1463.1L2160.3,1463.4L2164.3,1463.7L2168.3,1464.0L2172.2,1464.3L2176.2,1464.6L2180.2,1464.9L2184.2,1465.2L2188.1,1465.5L2192.0,1465.8L2195.0,1466.0"/>
<path stroke="#c87ee4" d="M379.5,162.0L383.2,163.2L386.8,165.1L390.3,167.0L393.7,169.0L397.2,171.0L400.6,173.1L404.0,175.2L407.4,177.3L410.7,179.5L414.0,181.7L417.3,184.0L420.5,186.4L423.6,188.8L426.8,191.3L429.9,193.8L432.9,196.4L436.0,198.9L439.1,201.5L442.1,204.1L445.2,206.6L448.3,209.1L451.4,211.6L454.5,214.1L457.7,216.6L460.8,219.1L464.0,221.6L467.1,224.0L470.3,226.5L473.4,228.9L476.6,231.4L479.8,233.8L482.9,236.3L486.1,238.7L489.3,241.2L492.4,243.6L495.6,246.1L498.7,248.6L501.9,251.0L505.0,253.5L508.2,255.9L511.3,258.4L514.5,260.8L517.7,263.3L520.8,265.7L524.0,268.1L527.2,270.5L530.5,272.9L533.7,275.2L536.9,277.6L540.2,279.9L543.5,282.2L546.8,284.4L550.1,286.7L553.4,288.9L556.8,291.1L560.1,293.2L563.5,295.4L566.9,297.5L570.3,299.7L573.7,301.8L577.1,303.8L580.5,305.9L583.9,308.0L587.4,310.0L590.8,312.1L594.2,314.1L597.7,316.1L601.2,318.1L604.6,320.1L608.1,322.1L611.6,324.1L615.1,326.0L618.6,328.0L622.1,329.9L625.5,331.8L629.0,333.7L632.4,335.5L635.7,337.4L638.9,339.3L642.0,341.2L647.4,341.3L649.8,344.4L651.0,348.2L652.0,352.1L653.7,355.7L656.5,353.7L659.0,350.6L662.6,349.0L666.6,348.5L670.6,348.6L674.5,349.1L678.3,350.4L681.3,353.0L683.4,356.4L685.9,359.5L689.3,361.5L693.1,362.6L696.4,364.8L698.0,368.5L699.0,372.3L699.8,376.3L701.5,379.7L704.5,377.7L706.6,374.3L708.8,370.9L711.7,368.3L714.8,370.6L717.1,373.9L719.0,377.4L720.7,381.0L722.6,384.5L725.7,385.1L727.7,381.6L729.8,378.2L732.7,378.3L734.4,382.0L735.9,385.7L738.2,388.9L741.9,387.9L745.4,386.1L749.3,386.6L752.9,388.3L755.9,390.9L758.3,394.1L760.6,397.4L763.6,399.9L766.2,397.2L767.7,393.5L770.1,391.6L771.3,395.4L772.2,399.3L774.4,401.5L776.5,398.2L778.3,394.6L781.1,392.1L784.3,394.3L786.8,397.5L788.7,400.9L790.1,404.7L791.2,408.5L792.6,412.3L794.7,410.5L795.8,406.7L798.3,403.8L802.3,404.0L806.1,405.2L809.8,406.8L813.2,408.8L816.4,411.3L819.6,413.6L822.9,415.9L826.3,418.0L829.8,419.9L833.6,421.2L837.5,422.2L841.2,423.6L844.9,425.1L848.6,426.6L852.3,428.0L856.0,429.5L859.7,431.1L863.4,432.6L867.1,434.1L870.8,435.6L874.5,437.2L878.2,438.7L881.9,440.3L885.6,441.8L889.2,443.3L892.9,444.8L896.5,446.2L900.1,447.5L903.6,448.7L907.0,449.9L910.3,451.0L915.3,452.9L918.2,450.2L921.1,450.3L922.3,454.1L923.6,457.9L926.2,460.9L929.7,462.8L934.4,463.5L937.7,465.3L941.1,467.2L944.5,469.0L948.0,470.8L951.5,472.6L955.1,474.5L958.6,476.4L962.0,478.4L965.5,480.4L968.9,482.4L972.3,484.6L975.7,486.7L979.0,488.9L982.3,491.2L985.6,493.5L988.8,495.8L992.1,498.1L995.3,500.5L998.4,502.9L1001.6,505.4L1004.7,507.9L1007.7,510.5L1010.7,513.1L1013.7,515.8L1016.6,518.5L1019.4,521.4L1022.2,524.2L1024.9,527.2L1027.5,530.2L1030.1,533.2L1032.7,536.2L1035.2,539.3L1037.7,542.5L1040.1,545.6L1042.5,548.8L1044.9,552.1L1047.2,555.3L1049.4,558.6L1051.6,562.0L1053.8,565.3L1055.9,568.7L1057.9,572.2L1059.9,575.6L1061.8,579.1L1063.7,582.6L1065.6,586.2L1067.5,589.7L1069.4,593.2L1071.2,596.8L1073.0,600.4L1074.8,603.9L1076.5,607.5L1078.2,611.2L1079.8,614.8L1081.4,618.5L1082.9,622.2L1084.4,625.9L1085.8,629.6L1087.2,633.3L1088.6,637.1L1090.1,640.8L1091.5,644.5L1093.0,648.2L1094.5,651.9L1096.1,655.6L1097.6,659.3L1099.2,663.0L1100.7,666.7L1102.2,670.4L1103.7,674.1L1105.0,677.8L1106.4,681.6L1107.6,685.4L1108.8,689.2L1109.9,693.0L1110.9,696.9L1111.9,700.8L1112.8,704.7L1113.7,708.6L1114.6,712.5L1115.4,716.4L1116.3,720.3L1117.1,724.2L1117.9,728.1L1118.7,732.0L1119.4,736.0L1120.2,739.9L1121.0,743.8L1121.8,747.7L1122.6,751.6L1123.4,755.6L1124.2,759.5L1125.0,763.4L1125.9,767.3L1126.7,771.2L1127.6,775.1L1128.4,779.0L1129.3,782.9L1130.2,786.8L1131.2,790.7L1132.1,794.6L1133.0,798.5L1134.0,802.4L1135.0,806.2L1136.0,810.1L1137.0,814.0L1138.0,817.9L1139.0,821.7L1140.1,825.6L1141.1,829.5L1142.1,833.3L1143.1,837.2L1144.2,841.1L1145.1,844.9L1146.1,848.8L1147.1,852.7L1148.1,856.6L1149.0,860.5L1149.9,864.3L1150.8,868.2L1151.7,872.1L1152.6,876.0L1153.5,879.9L1154.4,883.8L1155.3,887.7L1156.2,891.6L1157.2,895.5L1158.1,899.4L1159.0,903.3L1160.0,907.2L1160.9,911.1L1161.9,914.9L1162.9,918.8L1163.9,922.7L1164.9,926.6L1165.9,930.4L1167.0,934.3L1168.0,938.1L1169.1,942.0L1170.1,945.9L1171.1,949.7L1172.2,953.6L1173.1,957.5L1174.1,961.4L1175.1,965.2L1176.0,969.1L1176.9,973.0L1177.7,976.9L1178.6,980.8L1179.5,984.7L1180.3,988.6L1181.2,992.5L1182.1,996.4L1183.0,1000.3L1183.9,1004.2L1184.9,1008.1L1185.8,1012.0L1186.7,1015.9L1187.7,1019.8L1188.6,1023.7L1189.6,1027.6L1190.5,1031.5L1191.4,1035.3L1192.4,1039.2L1193.3,1043.1L1194.2,1047.0L1195.1,1050.9L1196.1,1054.8L1197.0,1058.7L1198.0,1062.6L1198.9,1066.5L1199.8,1070.3L1200.8,1074.2L1201.7,1078.1L1202.7,1082.0L1203.7,1085.9L1204.7,1089.8L1205.7,1093.6L1206.7,1097.5L1207.7,1101.3L1208.8,1105.2L1209.9,1109.1L1211.0,1112.9L1212.1,1116.7L1213.2,1120.6L1214.4,1124.4L1215.5,1128.3L1216.6,1132.1L1217.6,1136.0L1218.7,1139.8L1219.7,1143.7L1220.7,1147.6L1221.7,1151.4L1222.7,1155.3L1223.7,1159.1L1224.8,1163.0L1226.0,1166.8L1227.2,1170.6L1228.5,1174.4L1229.8,1178.1L1231.2,1181.9L1232.7,1185.6L1234.2,1189.3L1235.8,1192.9L1237.3,1196.6L1238.8,1200.3L1240.3,1204.0L1241.7,1207.8L1243.1,1211.5L1244.5,1215.3L1245.9,1219.0L1247.3,1222.8L1248.7,1226.5L1250.1,1230.2L1251.6,1233.9L1253.2,1237.6L1254.7,1241.3L1256.4,1244.9L1258.1,1248.5L1259.9,1252.1L1261.8,1255.6L1263.7,1259.1L1265.7,1262.5L1267.8,1265.9L1270.0,1269.3L1272.2,1272.6L1274.5,1275.9L1276.9,1279.1L1279.2,1282.3L1281.7,1285.5L1284.1,1288.6L1286.6,1291.8L1289.1,1294.9L1291.7,1298.0L1294.2,1301.0L1296.9,1304.0L1299.5,1307.0L1302.2,1309.9L1305.0,1312.8L1307.8,1315.7L1310.6,1318.5L1313.5,1321.2L1316.5,1323.9L1319.5,1326.5L1322.5,1329.1L1325.6,1331.6L1328.8,1334.0L1332.0,1336.4L1335.3,1338.7L1338.6,1340.9L1342.0,1343.1L1345.4,1345.1L1348.8,1347.2L1352.3,1349.1L1355.8,1351.0L1359.3,1352.9L1362.9,1354.7L1366.5,1356.4L1370.1,1358.1L1373.7,1359.8L1377.4,1361.3L1381.1,1362.9L1384.8,1364.3L1388.6,1365.7L1392.3,1367.1L1396.1,1368.4L1399.9,1369.7L1403.7,1370.9L1407.5,1372.1L1411.3,1373.2L1415.2,1374.3L1419.0,1375.4L1422.9,1376.5L1426.7,1377.5L1430.6,1378.6L1434.5,1379.6L1438.3,1380.6L1442.2,1381.5L1446.1,1382.5L1450.0,1383.4L1453.9,1384.4L1457.8,1385.3L1461.7,1386.1L1465.6,1387.0L1469.5,1387.9L1473.4,1388.7L1477.3,1389.5L1481.3,1390.2L1485.2,1391.0L1489.1,1391.7L1493.1,1392.4L1497.0,1393.1L1500.9,1393.7L1504.9,1394.4L1508.8,1395.0L1512.8,1395.6L1516.8,1396.1L1520.7,1396.7L1524.7,1397.2L1528.6,1397.8L1532.6,1398.3L1536.6,1398.8L1540.5,1399.4L1544.5,1399.9L1548.5,1400.4L1552.4,1400.9L1556.4,1401.4L1560.4,1402.0L1564.3,1402.5L1568.3,1403.0L1572.3,1403.6L1576.2,1404.1L1580.2,1404.6L1584.2,1405.1L1588.1,1405.7L1592.1,1406.2L1596.1,1406.7L1600.0,1407.2L1604.0,1407.7L1608.0,1408.2L1611.9,1408.6L1615.9,1409.1L1619.9,1409.6L1623.9,1410.0L1627.8,1410.4L1631.8,1410.9L1635.8,1411.3L1639.8,1411.7L1643.7,1412.1L1647.7,1412.5L1651.7,1412.8L1655.7,1413.2L1659.7,1413.6L1663.7,1413.9L1667.6,1414.3L1671.6,1414.6L1675.6,1414.9L1679.6,1415.3L1683.6,1415.6L1687.6,1415.9L1691.6,1416.2L1695.6,1416.5L1699.5,1416.8L1703.5,1417.1L1707.5,1417.4L1711.5,1417.7L1715.5,1418.0L1719.5,1418.3L1723.5,1418.6L1727.5,1418.9L1731.5,1419.1L1735.5,1419.4L1739.4,1419.7L1743.4,1420.0L1747.4,1420.3L1751.4,1420.6L1755.4,1420.8L1759.4,1421.1L1763.4,1421.4L1767.4,1421.7L1771.4,1422.0L1775.3,1422.3L1779.3,1422.5L1783.3,1422.8L1787.3,1423.1L1791.3,1423.4L1795.3,1423.7L1799.3,1424.0L1803.3,1424.2L1807.3,1424.5L1811.3,1424.8L1815.3,1425.1L1819.2,1425.3L1823.2,1425.6L1827.2,1425.9L1831.2,1426.1L1835.2,1426.4L1839.2,1426.7L1843.2,1426.9L1847.2,1427.2L1851.2,1427.5L1855.2,1427.7L1859.2,1428.0L1863.1,1428.3L1867.1,1428.5L1871.1,1428.8L1875.1,1429.1L1879.1,1429.3L1883.1,1429.6L1887.1,1429.9L1891.1,1430.2L1895.1,1430.4L1899.1,1430.7L1903.1,1431.0L1907.0,1431.3L1911.0,1431.6L1915.0,1431.8L1919.0,1432.1L1923.0,1432.4L1927.0,1432.7L1931.0,1433.0L1935.0,1433.3L1939.0,1433.6L1942.9,1433.9L1946.9,1434.1L1950.9,1434.4L1954.9,1434.7L1958.9,1435.0L1962.9,1435.3L1966.9,1435.7L1970.9,1436.0L1974.9,1436.3L1978.8,1436.7L1982.8,1437.1L1986.8,1437.4L1990.8,1437.9L1994.8,1438.3L1998.7,1438.7L2002.7,1439.2L2006.7,1439.7L2010.6,1440.2L2014.6,1440.8L2018.6,1441.3L2022.5,1441.9L2026.5,1442.5L2030.4,1443.1L2034.4,1443.7L2038.3,1444.3L2042.3,1444.9L2046.2,1445.6L2050.2,1446.2L2054.1,1446.8L2058.1,1447.3L2062.1,1447.9L2066.0,1448.5L2070.0,1449.0L2073.9,1449.6L2077.9,1450.1L2081.9,1450.7L2085.8,1451.2L2089.8,1451.7L2093.8,1452.2L2097.7,1452.8L2101.7,1453.2L2105.7,1453.7L2109.6,1454.2L2113.6,1454.7L2117.6,1455.1L2121.6,1455.6L2125.5,1456.0L2129.5,1456.5L2133.5,1456.9L2137.5,1457.3L2141.4,1457.7L2145.4,1458.1L2149.4,1458.5L2153.4,1458.9L2157.4,1459.3L2161.3,1459.6L2165.3,1460.0L2169.3,1460.4L2173.3,1460.8L2177.3,1461.1L2181.3,1461.5L2185.2,1461.9L2189.2,1462.2L2193.1,1462.6L2195.0,1462.8"/>
<path stroke="#e4a000" d="M379.5,76.0L383.3,77.3L386.9,79.0L390.3,81.0L393.6,83.3L396.8,85.7L399.9,88.1L403.1,90.5L406.2,93.0L409.3,95.5L412.3,98.1L415.4,100.7L418.4,103.3L421.4,105.9L424.4,108.6L427.3,111.3L430.2,114.1L433.0,116.9L435.9,119.7L438.8,122.5L441.6,125.3L444.4,128.1L447.3,130.9L450.1,133.7L453.0,136.6L455.8,139.4L458.6,142.2L461.5,145.0L464.4,147.8L467.2,150.5L470.1,153.3L473.1,156.0L476.0,158.8L478.9,161.4L481.9,164.1L484.9,166.7L488.0,169.3L491.1,171.9L494.2,174.4L497.3,176.8L500.5,179.3L503.7,181.6L506.9,184.0L510.2,186.3L513.5,188.6L516.7,190.9L520.0,193.2L523.3,195.5L526.6,197.8L529.9,200.0L533.1,202.4L536.4,204.7L539.6,207.0L542.9,209.4L546.1,211.8L549.3,214.2L552.5,216.6L555.6,219.0L558.8,221.4L562.0,223.9L565.2,226.3L568.4,228.7L571.6,231.1L574.8,233.4L578.1,235.7L581.3,238.0L584.6,240.3L588.0,242.5L591.3,244.6L594.7,246.7L598.2,248.8L601.6,250.8L605.1,252.7L608.6,254.7L612.1,256.6L615.7,258.4L619.2,260.3L622.8,262.1L626.3,263.9L629.9,265.7L633.5,267.6L637.0,269.4L640.6,271.2L644.1,273.0L647.7,274.9L651.2,276.7L654.8,278.6L658.3,280.4L661.9,282.2L665.5,284.1L669.0,285.9L672.6,287.6L676.2,289.4L679.8,291.1L683.5,292.7L687.1,294.3L690.8,295.9L694.5,297.4L698.2,298.9L701.9,300.4L705.7,301.8L709.4,303.1L713.2,304.5L717.0,305.8L720.8,307.1L724.5,308.4L728.3,309.7L732.1,311.0L735.9,312.3L739.7,313.6L743.4,314.9L747.2,316.2L751.0,317.5L754.8,318.9L758.5,320.2L762.3,321.6L766.0,323.0L769.8,324.3L773.5,325.8L777.3,327.2L781.0,328.6L784.7,330.1L788.4,331.6L792.1,333.1L795.8,334.7L799.5,336.3L803.1,337.9L806.8,339.6L810.4,341.2L814.0,342.9L817.7,344.6L821.3,346.2L824.9,347.9L828.6,349.5L832.2,351.2L835.9,352.8L839.6,354.4L843.3,355.9L847.0,357.4L850.7,359.0L854.4,360.4L858.1,361.9L861.8,363.4L865.5,364.9L869.2,366.3L872.9,367.8L876.6,369.4L880.3,370.9L884.0,372.5L887.6,374.1L891.3,375.8L894.9,377.5L898.5,379.3L902.0,381.1L905.6,382.9L909.1,384.8L912.7,386.7L916.2,388.5L919.7,390.4L923.3,392.3L926.8,394.1L930.4,395.9L934.0,397.7L937.6,399.4L941.2,401.0L944.9,402.6L948.5,404.2L952.2,405.8L955.8,407.4L959.4,409.1L963.0,410.8L966.5,412.6L970.0,414.6L973.4,416.6L976.8,418.7L980.2,420.9L983.5,423.1L986.7,425.4L990.0,427.7L993.2,430.1L996.5,432.4L999.7,434.7L1003.0,437.0L1006.3,439.3L1009.6,441.5L1012.9,443.7L1016.3,445.8L1019.6,448.0L1023.0,450.1L1026.3,452.3L1029.5,454.6L1032.6,457.0L1035.7,459.5L1038.7,462.1L1041.5,464.8L1044.3,467.7L1047.0,470.6L1049.7,473.5L1052.3,476.6L1054.9,479.6L1057.4,482.7L1059.9,485.8L1062.3,489.0L1064.7,492.2L1067.0,495.4L1069.3,498.7L1071.5,502.0L1073.6,505.4L1075.7,508.8L1077.7,512.3L1079.6,515.8L1081.5,519.3L1083.4,522.8L1085.2,526.4L1087.1,529.9L1088.9,533.5L1090.8,537.0L1092.6,540.5L1094.5,544.1L1096.4,547.6L1098.2,551.1L1100.0,554.7L1101.8,558.3L1103.5,561.9L1105.1,565.5L1106.7,569.2L1108.2,572.9L1109.6,576.6L1111.0,580.4L1112.4,584.1L1113.7,587.9L1114.9,591.7L1116.2,595.5L1117.4,599.3L1118.7,603.1L1119.9,606.9L1121.1,610.7L1122.3,614.6L1123.4,618.4L1124.6,622.2L1125.8,626.0L1126.9,629.9L1128.1,633.7L1129.3,637.5L1130.4,641.3L1131.6,645.2L1132.7,649.0L1133.9,652.8L1135.0,656.7L1136.2,660.5L1137.4,664.3L1138.5,668.2L1139.6,672.0L1140.8,675.8L1141.9,679.7L1143.1,683.5L1144.3,687.3L1145.5,691.1L1146.7,694.9L1147.9,698.7L1149.1,702.5L1150.4,706.3L1151.7,710.1L1152.9,713.9L1154.1,717.7L1155.3,721.5L1156.4,725.4L1157.5,729.2L1158.5,733.1L1159.5,736.9L1160.5,740.8L1161.4,744.7L1162.3,748.6L1163.2,752.5L1164.1,756.4L1165.0,760.3L1165.8,764.2L1166.7,768.1L1167.6,772.0L1168.5,775.9L1169.5,779.8L1170.4,783.7L1171.3,787.6L1172.2,791.5L1173.1,795.4L1174.0,799.3L1174.9,803.2L1175.9,807.1L1176.8,811.0L1177.7,814.9L1178.6,818.7L1179.5,822.6L1180.4,826.5L1181.3,830.4L1182.2,834.3L1183.1,838.2L1184.0,842.1L1184.9,846.0L1185.8,849.9L1186.6,853.8L1187.5,857.7L1188.3,861.6L1189.2,865.6L1190.0,869.5L1190.9,873.4L1191.7,877.3L1192.6,881.2L1193.4,885.1L1194.3,889.0L1195.1,892.9L1195.9,896.8L1196.8,900.7L1197.7,904.7L1198.5,908.6L1199.4,912.5L1200.3,916.4L1201.2,920.3L1202.1,924.2L1203.0,928.1L1203.9,931.9L1204.9,935.8L1205.9,939.7L1206.9,943.6L1207.9,947.4L1208.9,951.3L1209.9,955.1L1210.9,959.0L1211.8,962.9L1212.6,966.8L1213.4,970.7L1214.1,974.6L1214.8,978.6L1215.4,982.5L1216.0,986.5L1216.5,990.5L1217.0,994.4L1217.6,998.4L1218.1,1002.3L1218.6,1006.3L1219.2,1010.3L1219.7,1014.2L1220.3,1018.2L1220.9,1022.1L1221.6,1026.1L1222.2,1030.0L1222.9,1034.0L1223.7,1037.9L1224.4,1041.8L1225.2,1045.7L1226.0,1049.7L1226.9,1053.6L1227.8,1057.5L1228.7,1061.4L1229.6,1065.2L1230.7,1069.1L1231.7,1073.0L1232.8,1076.8L1233.9,1080.6L1235.1,1084.5L1236.3,1088.3L1237.5,1092.1L1238.7,1095.9L1240.0,1099.7L1241.3,1103.5L1242.6,1107.3L1243.9,1111.0L1245.2,1114.8L1246.5,1118.6L1247.8,1122.4L1249.2,1126.1L1250.5,1129.9L1251.9,1133.7L1253.2,1137.4L1254.5,1141.2L1255.9,1145.0L1257.2,1148.8L1258.5,1152.5L1259.9,1156.3L1261.3,1160.0L1262.7,1163.8L1264.1,1167.5L1265.6,1171.2L1267.2,1174.9L1268.7,1178.6L1270.4,1182.2L1272.0,1185.8L1273.7,1189.5L1275.4,1193.1L1277.2,1196.7L1278.9,1200.3L1280.6,1203.9L1282.4,1207.5L1284.1,1211.1L1285.8,1214.7L1287.6,1218.3L1289.3,1221.9L1291.1,1225.5L1292.9,1229.1L1294.7,1232.6L1296.5,1236.2L1298.3,1239.8L1300.2,1243.3L1302.1,1246.8L1304.1,1250.3L1306.1,1253.7L1308.2,1257.2L1310.2,1260.6L1312.4,1264.0L1314.5,1267.3L1316.7,1270.7L1318.9,1274.0L1321.1,1277.3L1323.4,1280.6L1325.7,1283.8L1328.1,1287.1L1330.5,1290.3L1333.0,1293.4L1335.5,1296.5L1338.0,1299.6L1340.6,1302.6L1343.3,1305.6L1346.0,1308.5L1348.7,1311.5L1351.5,1314.3L1354.3,1317.2L1357.1,1320.0L1360.0,1322.8L1362.9,1325.5L1365.9,1328.1L1368.9,1330.8L1372.0,1333.3L1375.1,1335.8L1378.3,1338.2L1381.5,1340.5L1384.8,1342.7L1388.2,1344.9L1391.6,1347.0L1395.0,1349.0L1398.5,1350.9L1402.1,1352.7L1405.6,1354.4L1409.3,1356.1L1412.9,1357.7L1416.6,1359.3L1420.3,1360.8L1424.0,1362.3L1427.7,1363.7L1431.5,1365.1L1435.2,1366.5L1439.0,1367.8L1442.8,1369.2L1446.6,1370.5L1450.4,1371.7L1454.2,1373.0L1458.0,1374.2L1461.8,1375.4L1465.6,1376.5L1469.4,1377.7L1473.3,1378.8L1477.1,1379.8L1481.0,1380.9L1484.9,1381.8L1488.8,1382.8L1492.7,1383.7L1496.6,1384.6L1500.5,1385.4L1504.4,1386.2L1508.3,1386.9L1512.2,1387.7L1516.2,1388.4L1520.1,1389.1L1524.1,1389.7L1528.0,1390.4L1532.0,1391.0L1535.9,1391.6L1539.9,1392.2L1543.8,1392.8L1547.8,1393.4L1551.7,1394.0L1555.7,1394.5L1559.7,1395.1L1563.6,1395.7L1567.6,1396.2L1571.5,1396.8L1575.5,1397.3L1579.5,1397.9L1583.4,1398.4L1587.4,1398.9L1591.4,1399.4L1595.3,1399.9L1599.3,1400.4L1603.3,1400.9L1607.2,1401.3L1611.2,1401.8L1615.2,1402.2L1619.2,1402.7L1623.2,1403.1L1627.1,1403.5L1631.1,1403.9L1635.1,1404.4L1639.1,1404.8L1643.0,1405.2L1647.0,1405.6L1651.0,1406.0L1655.0,1406.3L1659.0,1406.7L1662.9,1407.1L1666.9,1407.5L1670.9,1407.8L1674.9,1408.2L1678.9,1408.6L1682.9,1408.9L1686.9,1409.3L1690.8,1409.6L1694.8,1409.9L1698.8,1410.3L1702.8,1410.6L1706.8,1411.0L1710.8,1411.3L1714.8,1411.6L1718.7,1411.9L1722.7,1412.3L1726.7,1412.6L1730.7,1412.9L1734.7,1413.2L1738.7,1413.5L1742.7,1413.9L1746.6,1414.2L1750.6,1414.5L1754.6,1414.8L1758.6,1415.1L1762.6,1415.4L1766.6,1415.7L1770.6,1416.1L1774.6,1416.4L1778.6,1416.7L1782.5,1417.0L1786.5,1417.3L1790.5,1417.6L1794.5,1417.9L1798.5,1418.2L1802.5,1418.5L1806.5,1418.7L1810.5,1419.0L1814.5,1419.3L1818.4,1419.6L1822.4,1419.9L1826.4,1420.2L1830.4,1420.4L1834.4,1420.7L1838.4,1421.0L1842.4,1421.3L1846.4,1421.5L1850.4,1421.8L1854.4,1422.1L1858.3,1422.3L1862.3,1422.6L1866.3,1422.9L1870.3,1423.2L1874.3,1423.4L1878.3,1423.7L1882.3,1424.0L1886.3,1424.3L1890.3,1424.5L1894.3,1424.8L1898.3,1425.1L1902.2,1425.4L1906.2,1425.7L1910.2,1426.0L1914.2,1426.3L1918.2,1426.6L1922.2,1426.9L1926.2,1427.2L1930.2,1427.5L1934.2,1427.8L1938.1,1428.1L1942.1,1428.4L1946.1,1428.7L1950.1,1429.0L1954.1,1429.3L1958.1,1429.7L1962.1,1430.0L1966.1,1430.3L1970.0,1430.7L1974.0,1431.0L1978.0,1431.4L1982.0,1431.8L1986.0,1432.1L1989.9,1432.5L1993.9,1433.0L1997.9,1433.4L2001.9,1433.8L2005.8,1434.3L2009.8,1434.8L2013.8,1435.3L2017.8,1435.8L2021.7,1436.3L2025.7,1436.9L2029.6,1437.4L2033.6,1438.0L2037.6,1438.6L2041.5,1439.2L2045.5,1439.7L2049.4,1440.3L2053.4,1440.9L2057.3,1441.5L2061.3,1442.1L2065.3,1442.7L2069.2,1443.3L2073.2,1443.9L2077.1,1444.5L2081.1,1445.1L2085.0,1445.7L2089.0,1446.3L2092.9,1446.9L2096.9,1447.5L2100.8,1448.1L2104.8,1448.7L2108.8,1449.3L2112.7,1449.8L2116.7,1450.4L2120.6,1450.9L2124.6,1451.4L2128.6,1451.9L2132.5,1452.4L2136.5,1452.9L2140.5,1453.4L2144.5,1453.9L2148.4,1454.3L2152.4,1454.8L2156.4,1455.2L2160.4,1455.7L2164.3,1456.1L2168.3,1456.6L2172.3,1457.0L2176.2,1457.5L2180.2,1457.9L2184.1,1458.4L2188.1,1458.8L2191.9,1459.3L2195.0,1459.6"/>
<path stroke="#00dcdc" d="M379.5,47.0L382.9,49.1L386.1,51.5L389.3,53.8L392.5,56.2L395.8,58.5L399.0,60.9L402.2,63.3L405.4,65.7L408.6,68.1L411.8,70.5L414.9,72.9L418.1,75.4L421.2,77.9L424.4,80.4L427.5,82.9L430.6,85.4L433.6,88.0L436.7,90.5L439.7,93.2L442.7,95.8L445.6,98.5L448.5,101.3L451.4,104.1L454.2,106.9L457.1,109.7L459.9,112.5L462.7,115.4L465.5,118.2L468.3,121.0L471.2,123.9L474.0,126.7L476.9,129.4L479.8,132.2L482.7,134.9L485.6,137.6L488.6,140.3L491.6,142.9L494.7,145.5L497.7,148.1L500.8,150.6L504.0,153.1L507.1,155.6L510.3,158.0L513.4,160.5L516.6,162.9L519.9,165.2L523.1,167.6L526.3,170.0L529.6,172.3L532.8,174.6L536.1,177.0L539.3,179.3L542.6,181.6L545.9,183.9L549.1,186.2L552.4,188.4L555.7,190.7L559.0,193.0L562.3,195.2L565.7,197.5L569.0,199.7L572.3,201.9L575.7,204.1L579.0,206.3L582.4,208.4L585.7,210.6L589.1,212.7L592.5,214.8L595.9,216.9L599.3,219.0L602.8,221.1L606.2,223.1L609.6,225.2L613.1,227.2L616.6,229.2L620.0,231.2L623.5,233.1L627.0,235.1L630.5,237.1L634.0,239.0L637.5,240.9L641.0,242.9L644.5,244.8L648.0,246.7L651.5,248.6L655.1,250.5L658.6,252.3L662.2,254.2L665.7,256.0L669.3,257.8L672.9,259.6L676.5,261.3L680.1,263.0L683.7,264.7L687.3,266.3L691.0,267.9L694.7,269.5L698.4,271.0L702.1,272.5L705.8,273.9L709.6,275.3L713.3,276.7L717.1,278.1L720.8,279.5L724.6,280.9L728.3,282.3L732.0,283.7L735.8,285.2L739.5,286.7L743.1,288.3L746.8,289.9L750.5,291.5L754.1,293.1L757.7,294.8L761.4,296.5L765.0,298.2L768.6,299.9L772.2,301.7L775.8,303.4L779.4,305.1L783.0,306.8L786.6,308.5L790.3,310.2L793.9,311.9L797.5,313.6L801.2,315.2L804.8,316.9L808.5,318.5L812.1,320.2L815.8,321.8L819.4,323.4L823.1,325.1L826.7,326.7L830.4,328.3L834.0,329.9L837.7,331.6L841.3,333.2L845.0,334.8L848.6,336.5L852.3,338.1L855.9,339.7L859.6,341.4L863.2,343.0L866.9,344.6L870.5,346.3L874.2,347.9L877.8,349.6L881.5,351.2L885.1,352.9L888.7,354.6L892.4,356.3L896.0,358.0L899.6,359.6L903.2,361.3L906.9,363.1L910.5,364.8L914.1,366.5L917.7,368.2L921.3,369.9L924.9,371.6L928.6,373.3L932.2,374.9L935.8,376.6L939.5,378.3L943.1,379.9L946.8,381.6L950.4,383.2L954.0,384.9L957.6,386.7L961.1,388.6L964.6,390.5L968.0,392.5L971.4,394.6L974.7,396.8L978.0,399.1L981.2,401.4L984.4,403.8L987.6,406.2L990.7,408.7L993.8,411.2L996.9,413.8L1000.0,416.3L1003.1,418.9L1006.2,421.4L1009.2,424.0L1012.3,426.5L1015.4,429.0L1018.5,431.6L1021.6,434.1L1024.7,436.6L1027.8,439.1L1030.9,441.7L1033.9,444.3L1036.9,446.9L1039.8,449.6L1042.7,452.4L1045.5,455.2L1048.2,458.1L1050.9,461.1L1053.5,464.1L1056.1,467.1L1058.6,470.2L1061.1,473.4L1063.5,476.6L1065.9,479.8L1068.2,483.0L1070.5,486.3L1072.8,489.6L1074.9,492.9L1077.1,496.3L1079.2,499.7L1081.2,503.2L1083.2,506.6L1085.1,510.1L1087.0,513.6L1088.9,517.2L1090.7,520.7L1092.5,524.3L1094.3,527.9L1096.0,531.5L1097.7,535.1L1099.4,538.7L1101.1,542.4L1102.7,546.0L1104.3,549.7L1105.9,553.3L1107.4,557.0L1108.8,560.8L1110.2,564.5L1111.6,568.3L1112.9,572.1L1114.1,575.9L1115.3,579.7L1116.5,583.5L1117.6,587.3L1118.8,591.1L1119.9,595.0L1121.0,598.8L1122.2,602.7L1123.3,606.5L1124.5,610.3L1125.6,614.1L1126.8,618.0L1127.9,621.8L1129.1,625.6L1130.2,629.5L1131.3,633.3L1132.4,637.2L1133.5,641.0L1134.6,644.9L1135.7,648.7L1136.7,652.6L1137.8,656.4L1138.8,660.3L1139.8,664.2L1140.8,668.0L1141.8,671.9L1142.7,675.8L1143.7,679.7L1144.6,683.6L1145.5,687.5L1146.4,691.4L1147.2,695.3L1147.9,699.2L1148.7,703.1L1149.4,707.1L1150.0,711.0L1150.7,714.9L1151.4,718.9L1152.1,722.8L1152.8,726.8L1153.5,730.7L1154.2,734.6L1155.0,738.6L1155.8,742.5L1156.5,746.4L1157.3,750.3L1158.1,754.2L1159.0,758.1L1159.8,762.1L1160.7,766.0L1161.5,769.9L1162.4,773.8L1163.3,777.7L1164.2,781.6L1165.1,785.5L1166.0,789.4L1166.9,793.3L1167.8,797.2L1168.7,801.1L1169.6,804.9L1170.6,808.8L1171.5,812.7L1172.4,816.6L1173.3,820.5L1174.2,824.4L1175.2,828.3L1176.1,832.2L1177.0,836.1L1177.9,840.0L1178.8,843.9L1179.7,847.8L1180.6,851.7L1181.5,855.6L1182.4,859.5L1183.3,863.4L1184.2,867.3L1185.2,871.2L1186.1,875.0L1187.0,878.9L1187.9,882.8L1188.8,886.7L1189.7,890.6L1190.6,894.5L1191.6,898.4L1192.5,902.3L1193.4,906.2L1194.3,910.1L1195.2,914.0L1196.2,917.9L1197.1,921.8L1198.0,925.6L1199.0,929.5L1200.0,933.4L1201.1,937.2L1202.2,941.0L1203.4,944.8L1204.6,948.6L1205.8,952.5L1206.9,956.3L1208.0,960.1L1208.9,963.9L1209.8,967.8L1210.6,971.7L1211.2,975.6L1211.8,979.6L1212.4,983.5L1212.9,987.5L1213.5,991.4L1214.0,995.4L1214.6,999.4L1215.1,1003.3L1215.8,1007.3L1216.4,1011.2L1217.1,1015.2L1217.7,1019.1L1218.4,1023.0L1219.1,1027.0L1219.8,1030.9L1220.6,1034.9L1221.3,1038.8L1222.1,1042.7L1222.9,1046.6L1223.7,1050.5L1224.5,1054.5L1225.4,1058.4L1226.3,1062.3L1227.2,1066.1L1228.2,1070.0L1229.2,1073.9L1230.2,1077.7L1231.3,1081.6L1232.4,1085.4L1233.6,1089.3L1234.8,1093.1L1236.0,1096.9L1237.2,1100.7L1238.4,1104.5L1239.7,1108.3L1241.0,1112.1L1242.3,1115.9L1243.6,1119.6L1244.9,1123.4L1246.2,1127.2L1247.5,1131.0L1248.8,1134.8L1250.1,1138.6L1251.3,1142.4L1252.5,1146.2L1253.8,1150.0L1255.0,1153.8L1256.2,1157.6L1257.5,1161.4L1258.7,1165.2L1260.0,1169.0L1261.3,1172.7L1262.7,1176.5L1264.0,1180.3L1265.5,1184.0L1266.9,1187.7L1268.4,1191.4L1269.9,1195.1L1271.5,1198.8L1273.1,1202.5L1274.7,1206.1L1276.4,1209.8L1278.1,1213.4L1279.8,1217.0L1281.5,1220.6L1283.3,1224.2L1285.0,1227.8L1286.8,1231.4L1288.7,1234.9L1290.5,1238.5L1292.4,1242.0L1294.3,1245.5L1296.2,1249.0L1298.2,1252.5L1300.2,1255.9L1302.3,1259.4L1304.4,1262.7L1306.6,1266.1L1308.8,1269.4L1311.2,1272.6L1313.6,1275.8L1316.0,1278.9L1318.6,1282.0L1321.2,1285.0L1323.9,1288.0L1326.6,1290.9L1329.3,1293.8L1332.1,1296.7L1334.9,1299.5L1337.8,1302.3L1340.7,1305.0L1343.7,1307.7L1346.6,1310.3L1349.7,1312.9L1352.7,1315.5L1355.8,1318.0L1359.0,1320.5L1362.2,1322.9L1365.4,1325.3L1368.6,1327.6L1371.9,1329.9L1375.2,1332.1L1378.6,1334.3L1382.0,1336.4L1385.4,1338.4L1388.9,1340.3L1392.4,1342.2L1396.0,1344.0L1399.6,1345.7L1403.2,1347.4L1406.8,1349.0L1410.5,1350.5L1414.2,1352.0L1418.0,1353.4L1421.7,1354.9L1425.5,1356.3L1429.2,1357.6L1433.0,1359.0L1436.7,1360.3L1440.5,1361.7L1444.3,1363.0L1448.1,1364.2L1451.9,1365.5L1455.7,1366.7L1459.5,1367.9L1463.3,1369.1L1467.1,1370.3L1471.0,1371.4L1474.8,1372.5L1478.7,1373.5L1482.6,1374.5L1486.4,1375.5L1490.3,1376.4L1494.2,1377.3L1498.1,1378.2L1502.0,1379.0L1506.0,1379.8L1509.9,1380.5L1513.8,1381.2L1517.8,1382.0L1521.7,1382.6L1525.6,1383.3L1529.6,1383.9L1533.5,1384.6L1537.5,1385.2L1541.4,1385.8L1545.4,1386.4L1549.4,1387.0L1553.3,1387.6L1557.3,1388.2L1561.2,1388.7L1565.2,1389.3L1569.1,1389.9L1573.1,1390.4L1577.1,1391.0L1581.0,1391.5L1585.0,1392.0L1589.0,1392.6L1592.9,1393.1L1596.9,1393.5L1600.9,1394.0L1604.8,1394.5L1608.8,1395.0L1612.8,1395.4L1616.8,1395.9L1620.7,1396.3L1624.7,1396.7L1628.7,1397.2L1632.7,1397.6L1636.7,1398.0L1640.6,1398.4L1644.6,1398.8L1648.6,1399.2L1652.6,1399.6L1656.6,1400.0L1660.5,1400.4L1664.5,1400.7L1668.5,1401.1L1672.5,1401.5L1676.5,1401.8L1680.4,1402.2L1684.4,1402.5L1688.4,1402.9L1692.4,1403.2L1696.4,1403.6L1700.4,1403.9L1704.4,1404.3L1708.3,1404.6L1712.3,1404.9L1716.3,1405.2L1720.3,1405.6L1724.3,1405.9L1728.3,1406.2L1732.3,1406.5L1736.3,1406.9L1740.2,1407.2L1744.2,1407.5L1748.2,1407.8L1752.2,1408.1L1756.2,1408.4L1760.2,1408.7L1764.2,1409.1L1768.2,1409.4L1772.1,1409.7L1776.1,1410.0L1780.1,1410.3L1784.1,1410.6L1788.1,1410.9L1792.1,1411.2L1796.1,1411.5L1800.1,1411.8L1804.1,1412.1L1808.0,1412.4L1812.0,1412.7L1816.0,1413.0L1820.0,1413.3L1824.0,1413.5L1828.0,1413.8L1832.0,1414.1L1836.0,1414.4L1840.0,1414.7L1844.0,1415.0L1847.9,1415.2L1851.9,1415.5L1855.9,1415.8L1859.9,1416.1L1863.9,1416.3L1867.9,1416.6L1871.9,1416.9L1875.9,1417.2L1879.9,1417.5L1883.9,1417.7L1887.8,1418.0L1891.8,1418.3L1895.8,1418.6L1899.8,1418.9L1903.8,1419.1L1907.8,1419.4L1911.8,1419.7L1915.8,1420.0L1919.8,1420.3L1923.8,1420.5L1927.7,1420.8L1931.7,1421.1L1935.7,1421.4L1939.7,1421.6L1943.7,1421.9L1947.7,1422.2L1951.7,1422.5L1955.7,1422.7L1959.7,1423.0L1963.7,1423.3L1967.6,1423.6L1971.6,1423.9L1975.6,1424.2L1979.6,1424.6L1983.6,1424.9L1987.6,1425.3L1991.6,1425.7L1995.5,1426.1L1999.5,1426.5L2003.5,1427.0L2007.4,1427.5L2011.4,1428.0L2015.4,1428.6L2019.3,1429.1L2023.3,1429.7L2027.2,1430.3L2031.2,1430.9L2035.1,1431.5L2039.1,1432.2L2043.0,1432.8L2047.0,1433.4L2050.9,1434.0L2054.9,1434.7L2058.9,1435.3L2062.8,1435.9L2066.8,1436.5L2070.7,1437.1L2074.7,1437.7L2078.6,1438.3L2082.6,1438.9L2086.5,1439.5L2090.5,1440.1L2094.4,1440.7L2098.4,1441.3L2102.3,1441.9L2106.3,1442.5L2110.3,1443.1L2114.2,1443.6L2118.2,1444.2L2122.1,1444.7L2126.1,1445.3L2130.1,1445.8L2134.0,1446.3L2138.0,1446.9L2142.0,1447.4L2145.9,1447.9L2149.9,1448.4L2153.9,1448.9L2157.8,1449.4L2161.8,1449.9L2165.8,1450.4L2169.7,1450.9L2173.7,1451.4L2177.7,1451.8L2181.6,1452.3L2185.6,1452.8L2189.5,1453.3L2193.4,1453.8L2195.0,1454.0"/>
</g>
<path fill="none" stroke="#000" stroke-width="4.60" d="M1577.3,1332.6L1602.3,1332.6M1627.6,1332.6L1654.6,1332.6M1677.5,1332.6L1704.5,1332.6M1727.5,1332.6L1754.5,1332.6M1777.4,1332.6L1804.4,1332.6M1827.4,1332.6L1854.4,1332.6M1877.3,1332.6L1904.3,1332.6M1927.3,1332.6L1954.3,1332.6M1977.2,1332.6L2004.2,1332.6M2027.2,1332.6L2054.2,1332.6M2077.2,1332.6L2104.2,1332.6M2127.1,1332.6L2154.1,1332.6M2179.6,1331.1L2185.8,1350.0M2185.4,1375.8L2185.4,1400.6M2185.4,1426.1L2185.4,1452.7M2168.0,1487.0L2187.0,1476.0M1579.6,1330.3L1579.6,1354.8M1579.6,1380.1L1579.6,1405.9M1579.6,1429.6L1579.6,1455.4M1579.6,1480.2L1579.6,1486.3M1579.6,1484.0L1593.3,1484.0M1616.5,1484.0L1643.0,1484.0M1666.7,1484.0L1693.2,1484.0M1716.9,1484.0L1743.4,1484.0M1767.1,1484.0L1793.6,1484.0M1817.3,1484.0L1843.8,1484.0M1867.5,1484.0L1894.0,1484.0M1917.7,1484.0L1944.2,1484.0M1967.9,1484.0L1994.4,1484.0M2018.1,1484.0L2044.6,1484.0M2068.3,1484.0L2094.8,1484.0M2118.5,1484.0L2145.0,1484.0"/>
<path fill="none" stroke="#3a3a3a" stroke-width="2.2" d="M1563.3,1446L1130,1343"/>
<path fill="#000" stroke="none" d="M1094,1334.4L1133.2,1333.6L1128.2,1352.6Z"/>
<path stroke="#000" fill="none" stroke-width="4.40" stroke-linecap="square" d="M379.50,31.66H2195.10V1493.60H379.50Z"/>
<path stroke="#000" stroke-width="4.60" fill="none" d="M351,1493.60H379.50M351,1339.71H379.50M351,1185.82H379.50M351,1031.94H379.50M351,878.05H379.50M351,724.16H379.50M351,570.27H379.50M351,416.38H379.50M351,262.50H379.50M351,108.61H379.50M364.8,1416.66H379.50M364.8,1262.77H379.50M364.8,1108.88H379.50M364.8,954.99H379.50M364.8,801.10H379.50M364.8,647.22H379.50M364.8,493.33H379.50M364.8,339.44H379.50M364.8,185.55H379.50M364.8,31.66H379.50M379.50,1493.60V1522.3M621.58,1493.60V1522.3M863.66,1493.60V1522.3M1105.74,1493.60V1522.3M1347.82,1493.60V1522.3M1589.90,1493.60V1522.3M1831.98,1493.60V1522.3M2074.06,1493.60V1522.3M500.54,1493.60V1508.2M742.62,1493.60V1508.2M984.70,1493.60V1508.2M1226.78,1493.60V1508.2M1468.86,1493.60V1508.2M1710.94,1493.60V1508.2M1953.02,1493.60V1508.2M2195.10,1493.60V1508.2"/>
<text font-family="'Liberation Sans', Arial, sans-serif" fill="#000" font-size="61.50" transform="translate(330.30,1511.50) scale(1.0000,1.0550)" text-anchor="end">0</text>
<text font-family="'Liberation Sans', Arial, sans-serif" fill="#000" font-size="61.50" transform="translate(330.30,1357.61) scale(1.0000,1.0550)" text-anchor="end">200</text>
<text font-family="'Liberation Sans', Arial, sans-serif" fill="#000" font-size="61.50" transform="translate(330.30,1203.72) scale(1.0000,1.0550)" text-anchor="end">400</text>
<text font-family="'Liberation Sans', Arial, sans-serif" fill="#000" font-size="61.50" transform="translate(330.30,1049.84) scale(1.0000,1.0550)" text-anchor="end">600</text>
<text font-family="'Liberation Sans', Arial, sans-serif" fill="#000" font-size="61.50" transform="translate(330.30,895.95) scale(1.0000,1.0550)" text-anchor="end">800</text>
<text font-family="'Liberation Sans', Arial, sans-serif" fill="#000" font-size="61.50" transform="translate(330.30,742.06) scale(1.0000,1.0550)" text-anchor="end">1000</text>
<text font-family="'Liberation Sans', Arial, sans-serif" fill="#000" font-size="61.50" transform="translate(330.30,588.17) scale(1.0000,1.0550)" text-anchor="end">1200</text>
<text font-family="'Liberation Sans', Arial, sans-serif" fill="#000" font-size="61.50" transform="translate(330.30,434.28) scale(1.0000,1.0550)" text-anchor="end">1400</text>
<text font-family="'Liberation Sans', Arial, sans-serif" fill="#000" font-size="61.50" transform="translate(330.30,280.40) scale(1.0000,1.0550)" text-anchor="end">1600</text>
<text font-family="'Liberation Sans', Arial, sans-serif" fill="#000" font-size="61.50" transform="translate(330.30,126.51) scale(1.0000,1.0550)" text-anchor="end">1800</text>
<text font-family="'Liberation Sans', Arial, sans-serif" fill="#000" font-size="61.50" transform="translate(317.27,1591.60) scale(1.0000,1.0550)">−100</text>
<text font-family="'Liberation Sans', Arial, sans-serif" fill="#000" font-size="61.50" transform="translate(557.67,1591.60) scale(1.0000,1.0550)">−80</text>
<text font-family="'Liberation Sans', Arial, sans-serif" fill="#000" font-size="61.50" transform="translate(801.87,1591.60) scale(1.0000,1.0550)">−60</text>
<text font-family="'Liberation Sans', Arial, sans-serif" fill="#000" font-size="61.50" transform="translate(1039.07,1591.60) scale(1.0000,1.0550)">−40</text>
<text font-family="'Liberation Sans', Arial, sans-serif" fill="#000" font-size="61.50" transform="translate(1284.17,1591.60) scale(1.0000,1.0550)">−20</text>
<text font-family="'Liberation Sans', Arial, sans-serif" fill="#000" font-size="61.50" transform="translate(1589.90,1591.60) scale(1.0000,1.0550)" text-anchor="middle">0</text>
<text font-family="'Liberation Sans', Arial, sans-serif" fill="#000" font-size="61.50" transform="translate(1831.98,1591.60) scale(1.0000,1.0550)" text-anchor="middle">20</text>
<text font-family="'Liberation Sans', Arial, sans-serif" fill="#000" font-size="61.50" transform="translate(2074.06,1591.60) scale(1.0000,1.0550)" text-anchor="middle">40</text>
<text font-family="'Liberation Sans', Arial, sans-serif" fill="#000" font-size="76.80" transform="translate(993.40,1711.20) scale(1.0000,1.0500)">Temperature (°C)</text>
<text font-family="'Liberation Sans', Arial, sans-serif" fill="#000" font-size="76.00" transform="translate(107.30,1121.90) rotate(-90) scale(1.0000,1.0250)">Storage modulus (MPa)</text>
<rect x="1647.5" y="52" width="529.9" height="449.6" fill="#fff" stroke="#606060" stroke-width="3"/>
<path stroke="#4d4d4d" stroke-width="4.6" d="M1655,101.3H1820.6"/>
<text font-family="'Liberation Sans', Arial, sans-serif" fill="#000" font-size="72.50" transform="translate(1836.00,126.30) scale(1.0000,1.0200)">Bio-HDPE</text>
<path stroke="#00a563" stroke-width="4.6" d="M1655,189.5H1820.6"/>
<text font-family="'Liberation Sans', Arial, sans-serif" fill="#000" font-size="72.50" transform="translate(1836.00,214.50) scale(1.0000,1.0200)">10T</text>
<path stroke="#c87ee4" stroke-width="4.6" d="M1655,278.0H1820.6"/>
<text font-family="'Liberation Sans', Arial, sans-serif" fill="#000" font-size="72.50" transform="translate(1836.00,303.00) scale(1.0000,1.0200)">20T</text>
<path stroke="#00dcdc" stroke-width="4.6" d="M1655,366.0H1820.6"/>
<text font-family="'Liberation Sans', Arial, sans-serif" fill="#000" font-size="72.50" transform="translate(1836.00,391.00) scale(1.0000,1.0200)">30T</text>
<path stroke="#e4a000" stroke-width="4.6" d="M1655,454.6H1820.6"/>
<text font-family="'Liberation Sans', Arial, sans-serif" fill="#000" font-size="72.50" transform="translate(1836.00,479.60) scale(1.0000,1.0200)">40T</text>
</svg>
</body></html>
